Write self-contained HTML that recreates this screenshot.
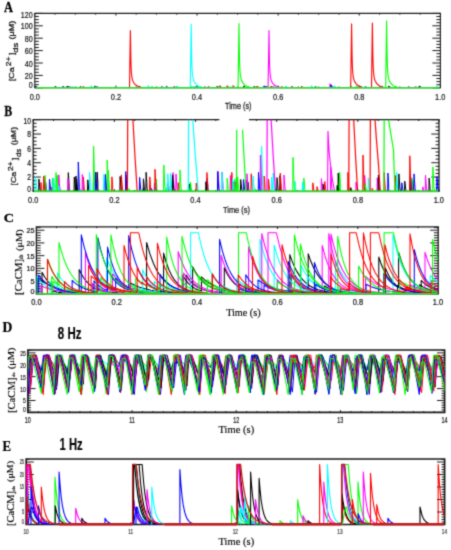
<!DOCTYPE html>
<html><head><meta charset="utf-8"><style>html,body{margin:0;padding:0;background:#fff;overflow:hidden;}svg{display:block;}</style></head><body>
<svg width="451" height="550" viewBox="0 0 451 550">
<filter id="bl" filterUnits="userSpaceOnUse" x="0" y="0" width="451" height="550" color-interpolation-filters="sRGB"><feConvolveMatrix order="3" kernelMatrix="0.0622 0.2494 0.0622 0.2494 1 0.2494 0.0622 0.2494 0.0622" divisor="2.2461" edgeMode="duplicate" preserveAlpha="true"/></filter>
<g filter="url(#bl)">
<rect width="451" height="550" fill="#fff"/>
<defs>
<clipPath id="cpA"><rect x="34.8" y="13.4" width="405.6" height="74.4"/></clipPath>
<clipPath id="cpB"><rect x="33.2" y="119.7" width="405.8" height="71.7"/></clipPath>
<clipPath id="cpC"><rect x="36.4" y="226.8" width="401.8" height="67"/></clipPath>
<clipPath id="cpD"><rect x="27.9" y="350" width="416.7" height="62.4"/></clipPath>
<clipPath id="cpE"><rect x="26.2" y="459" width="418.4" height="65.5"/></clipPath>
</defs>
<text transform="translate(4.04 11.7) scale(0.909 1)" font-family="Liberation Serif" font-weight="bold" font-size="13.64" fill="#000" stroke="#000" stroke-width="0.25">A</text>
<text transform="translate(4.32 115.63) scale(0.868 1)" font-family="Liberation Serif" font-weight="bold" font-size="13.64" fill="#000" stroke="#000" stroke-width="0.25">B</text>
<text transform="translate(3.66 221.77) scale(1.058 1)" font-family="Liberation Serif" font-weight="bold" font-size="13.43" fill="#000" stroke="#000" stroke-width="0.25">C</text>
<text transform="translate(2.5 331.63) scale(0.957 1)" font-family="Liberation Serif" font-weight="bold" font-size="14.24" fill="#000" stroke="#000" stroke-width="0.25">D</text>
<text transform="translate(2.51 450.5) scale(0.898 1)" font-family="Liberation Serif" font-weight="bold" font-size="14.35" fill="#000" stroke="#000" stroke-width="0.25">E</text>
<text transform="translate(57.85 338.64) scale(0.736 1)" font-family="Liberation Sans" font-weight="bold" font-size="15.63" fill="#000" stroke="#000" stroke-width="0.15">8 Hz</text>
<text transform="translate(59.53 450) scale(0.698 1)" font-family="Liberation Sans" font-weight="bold" font-size="16.09" fill="#000" stroke="#000" stroke-width="0.15">1 Hz</text>
<text transform="translate(224.95 109.15) scale(0.881 1)" font-family="Liberation Sans" font-weight="normal" font-size="8.34" fill="#222" stroke="#222" stroke-width="0.25">Time (s)</text>
<text transform="translate(222.95 212.55) scale(0.895 1)" font-family="Liberation Sans" font-weight="normal" font-size="8.34" fill="#222" stroke="#222" stroke-width="0.25">Time (s)</text>
<text transform="translate(226.15 316.18) scale(0.988 1)" font-family="Liberation Serif" font-weight="normal" font-size="10.33" fill="#000" stroke="#000" stroke-width="0.15">Time (s)</text>
<text transform="translate(218.54 433.11) scale(0.989 1)" font-family="Liberation Serif" font-weight="normal" font-size="10.66" fill="#000" stroke="#000" stroke-width="0.15">Time (s)</text>
<text transform="translate(218.54 544.65) scale(1.054 1)" font-family="Liberation Serif" font-weight="normal" font-size="10.00" fill="#000" stroke="#000" stroke-width="0.15">Time (s)</text>
<text transform="translate(13.98 81.23) rotate(-90) scale(1.168 1)" font-family="Liberation Sans" font-weight="normal" font-size="7.70" fill="#222" stroke="#222" stroke-width="0.3">[Ca</text>
<text transform="translate(10.6 66.13) rotate(-90) scale(1.152 1)" font-family="Liberation Sans" font-weight="normal" font-size="7.43" fill="#222" stroke="#222" stroke-width="0.3">2+</text>
<text transform="translate(13.97 54.94) rotate(-90) scale(1.207 1)" font-family="Liberation Sans" font-weight="normal" font-size="7.27" fill="#222" stroke="#222" stroke-width="0.3">]</text>
<text transform="translate(18.42 52.78) rotate(-90) scale(1.259 1)" font-family="Liberation Sans" font-weight="normal" font-size="7.62" fill="#222" stroke="#222" stroke-width="0.3">ds</text>
<text transform="translate(13.94 39.54) rotate(-90) scale(1.302 1)" font-family="Liberation Sans" font-weight="normal" font-size="6.95" fill="#222" stroke="#222" stroke-width="0.3">(μM)</text>
<text transform="translate(16.45 185.41) rotate(-90) scale(1.182 1)" font-family="Liberation Sans" font-weight="normal" font-size="7.38" fill="#222" stroke="#222" stroke-width="0.3">[Ca</text>
<text transform="translate(13.3 171.12) rotate(-90) scale(1.126 1)" font-family="Liberation Sans" font-weight="normal" font-size="7.43" fill="#222" stroke="#222" stroke-width="0.3">2+</text>
<text transform="translate(16.67 160.25) rotate(-90) scale(1.341 1)" font-family="Liberation Sans" font-weight="normal" font-size="7.27" fill="#222" stroke="#222" stroke-width="0.3">]</text>
<text transform="translate(20.83 157.12) rotate(-90) scale(1.083 1)" font-family="Liberation Sans" font-weight="normal" font-size="7.35" fill="#222" stroke="#222" stroke-width="0.3">ds</text>
<text transform="translate(16.44 145.13) rotate(-90) scale(1.266 1)" font-family="Liberation Sans" font-weight="normal" font-size="6.95" fill="#222" stroke="#222" stroke-width="0.3">(μM)</text>
<text transform="translate(22.22 294.96) rotate(-90) scale(0.989 1)" font-family="Liberation Serif" font-weight="normal" font-size="10.96" fill="#000" stroke="#000" stroke-width="0.15">[CaCM]</text>
<text transform="translate(23.44 258.88) rotate(-90) scale(0.860 1)" font-family="Liberation Serif" font-weight="normal" font-size="5.82" fill="#000" stroke="#000" stroke-width="0.15">ds</text>
<text transform="translate(21.66 251.02) rotate(-90) scale(1.213 1)" font-family="Liberation Serif" font-weight="normal" font-size="8.57" fill="#000" stroke="#000" stroke-width="0.15">(μM)</text>
<text transform="translate(14.9 413.05) rotate(-90) scale(0.964 1)" font-family="Liberation Serif" font-weight="normal" font-size="11.08" fill="#000" stroke="#000" stroke-width="0.15">[CaCM]</text>
<text transform="translate(15.35 376.66) rotate(-90) scale(0.933 1)" font-family="Liberation Serif" font-weight="normal" font-size="4.96" fill="#000" stroke="#000" stroke-width="0.15">ds</text>
<text transform="translate(13.51 369.32) rotate(-90) scale(1.194 1)" font-family="Liberation Serif" font-weight="normal" font-size="8.79" fill="#000" stroke="#000" stroke-width="0.15">(μM)</text>
<text transform="translate(13.77 525.93) rotate(-90) scale(0.988 1)" font-family="Liberation Serif" font-weight="normal" font-size="10.60" fill="#000" stroke="#000" stroke-width="0.15">[CaCM]</text>
<text transform="translate(15.16 491) rotate(-90) scale(1.497 1)" font-family="Liberation Serif" font-weight="normal" font-size="3.83" fill="#000" stroke="#000" stroke-width="0.15">ds</text>
<text transform="translate(13.44 481.9) rotate(-90) scale(1.102 1)" font-family="Liberation Serif" font-weight="normal" font-size="9.12" fill="#000" stroke="#000" stroke-width="0.15">(μM)</text>
<text transform="translate(20.86 17.76) scale(0.817 1)" font-family="Liberation Sans" font-weight="normal" font-size="8.73" fill="#111" stroke="#111" stroke-width="0.2">120</text>
<text transform="translate(20.86 29.31) scale(0.817 1)" font-family="Liberation Sans" font-weight="normal" font-size="8.73" fill="#111" stroke="#111" stroke-width="0.2">100</text>
<text transform="translate(24.83 41.71) scale(0.817 1)" font-family="Liberation Sans" font-weight="normal" font-size="8.73" fill="#111" stroke="#111" stroke-width="0.2">80</text>
<text transform="translate(24.83 54.11) scale(0.817 1)" font-family="Liberation Sans" font-weight="normal" font-size="8.73" fill="#111" stroke="#111" stroke-width="0.2">60</text>
<text transform="translate(24.83 66.51) scale(0.817 1)" font-family="Liberation Sans" font-weight="normal" font-size="8.73" fill="#111" stroke="#111" stroke-width="0.2">40</text>
<text transform="translate(24.83 78.51) scale(0.817 1)" font-family="Liberation Sans" font-weight="normal" font-size="8.73" fill="#111" stroke="#111" stroke-width="0.2">20</text>
<text transform="translate(28.79 87.51) scale(0.817 1)" font-family="Liberation Sans" font-weight="normal" font-size="8.73" fill="#111" stroke="#111" stroke-width="0.2">0</text>
<text transform="translate(29.64 99.61) scale(0.799 1)" font-family="Liberation Sans" font-weight="normal" font-size="9.30" fill="#111" stroke="#111" stroke-width="0.2">0.0</text>
<text transform="translate(110.8 99.61) scale(0.799 1)" font-family="Liberation Sans" font-weight="normal" font-size="9.30" fill="#111" stroke="#111" stroke-width="0.2">0.2</text>
<text transform="translate(191.84 99.61) scale(0.799 1)" font-family="Liberation Sans" font-weight="normal" font-size="9.30" fill="#111" stroke="#111" stroke-width="0.2">0.4</text>
<text transform="translate(273.02 99.61) scale(0.799 1)" font-family="Liberation Sans" font-weight="normal" font-size="9.30" fill="#111" stroke="#111" stroke-width="0.2">0.6</text>
<text transform="translate(354.14 99.61) scale(0.799 1)" font-family="Liberation Sans" font-weight="normal" font-size="9.30" fill="#111" stroke="#111" stroke-width="0.2">0.8</text>
<text transform="translate(435.09 99.61) scale(0.799 1)" font-family="Liberation Sans" font-weight="normal" font-size="9.30" fill="#111" stroke="#111" stroke-width="0.2">1.0</text>
<text transform="translate(23.49 124.42) scale(0.805 1)" font-family="Liberation Sans" font-weight="normal" font-size="8.45" fill="#111" stroke="#111" stroke-width="0.2">10</text>
<text transform="translate(27.3 137.26) scale(0.805 1)" font-family="Liberation Sans" font-weight="normal" font-size="8.45" fill="#111" stroke="#111" stroke-width="0.2">8</text>
<text transform="translate(27.3 151.6) scale(0.805 1)" font-family="Liberation Sans" font-weight="normal" font-size="8.45" fill="#111" stroke="#111" stroke-width="0.2">6</text>
<text transform="translate(27.2 165.94) scale(0.805 1)" font-family="Liberation Sans" font-weight="normal" font-size="8.45" fill="#111" stroke="#111" stroke-width="0.2">4</text>
<text transform="translate(27.33 180.22) scale(0.805 1)" font-family="Liberation Sans" font-weight="normal" font-size="8.45" fill="#111" stroke="#111" stroke-width="0.2">2</text>
<text transform="translate(27.26 191.52) scale(0.805 1)" font-family="Liberation Sans" font-weight="normal" font-size="8.45" fill="#111" stroke="#111" stroke-width="0.2">0</text>
<text transform="translate(28.04 203.31) scale(0.850 1)" font-family="Liberation Sans" font-weight="normal" font-size="8.73" fill="#111" stroke="#111" stroke-width="0.2">0.0</text>
<text transform="translate(109.24 203.31) scale(0.850 1)" font-family="Liberation Sans" font-weight="normal" font-size="8.73" fill="#111" stroke="#111" stroke-width="0.2">0.2</text>
<text transform="translate(190.32 203.31) scale(0.850 1)" font-family="Liberation Sans" font-weight="normal" font-size="8.73" fill="#111" stroke="#111" stroke-width="0.2">0.4</text>
<text transform="translate(271.54 203.31) scale(0.850 1)" font-family="Liberation Sans" font-weight="normal" font-size="8.73" fill="#111" stroke="#111" stroke-width="0.2">0.6</text>
<text transform="translate(352.7 203.31) scale(0.850 1)" font-family="Liberation Sans" font-weight="normal" font-size="8.73" fill="#111" stroke="#111" stroke-width="0.2">0.8</text>
<text transform="translate(433.69 203.31) scale(0.850 1)" font-family="Liberation Sans" font-weight="normal" font-size="8.73" fill="#111" stroke="#111" stroke-width="0.2">1.0</text>
<text transform="translate(26.44 232.98) scale(0.904 1)" font-family="Liberation Sans" font-weight="normal" font-size="8.03" fill="#111" stroke="#111" stroke-width="0.2">25</text>
<text transform="translate(26.4 245.9) scale(0.904 1)" font-family="Liberation Sans" font-weight="normal" font-size="8.03" fill="#111" stroke="#111" stroke-width="0.2">20</text>
<text transform="translate(26.44 258.57) scale(0.904 1)" font-family="Liberation Sans" font-weight="normal" font-size="8.03" fill="#111" stroke="#111" stroke-width="0.2">15</text>
<text transform="translate(26.4 271.33) scale(0.904 1)" font-family="Liberation Sans" font-weight="normal" font-size="8.03" fill="#111" stroke="#111" stroke-width="0.2">10</text>
<text transform="translate(30.46 284.11) scale(0.904 1)" font-family="Liberation Sans" font-weight="normal" font-size="8.03" fill="#111" stroke="#111" stroke-width="0.2">5</text>
<text transform="translate(30.43 293.97) scale(0.904 1)" font-family="Liberation Sans" font-weight="normal" font-size="8.03" fill="#111" stroke="#111" stroke-width="0.2">0</text>
<text transform="translate(31.19 305.17) scale(0.903 1)" font-family="Liberation Sans" font-weight="normal" font-size="8.31" fill="#111" stroke="#111" stroke-width="0.2">0.0</text>
<text transform="translate(111.59 305.17) scale(0.903 1)" font-family="Liberation Sans" font-weight="normal" font-size="8.31" fill="#111" stroke="#111" stroke-width="0.2">0.2</text>
<text transform="translate(191.87 305.17) scale(0.903 1)" font-family="Liberation Sans" font-weight="normal" font-size="8.31" fill="#111" stroke="#111" stroke-width="0.2">0.4</text>
<text transform="translate(272.29 305.17) scale(0.903 1)" font-family="Liberation Sans" font-weight="normal" font-size="8.31" fill="#111" stroke="#111" stroke-width="0.2">0.6</text>
<text transform="translate(352.65 305.17) scale(0.903 1)" font-family="Liberation Sans" font-weight="normal" font-size="8.31" fill="#111" stroke="#111" stroke-width="0.2">0.8</text>
<text transform="translate(432.84 305.17) scale(0.903 1)" font-family="Liberation Sans" font-weight="normal" font-size="8.31" fill="#111" stroke="#111" stroke-width="0.2">1.0</text>
<text transform="translate(20.25 355.58) scale(0.646 1)" font-family="Liberation Sans" font-weight="normal" font-size="7.89" fill="#111" stroke="#111" stroke-width="0.2">25</text>
<text transform="translate(20.22 367.69) scale(0.646 1)" font-family="Liberation Sans" font-weight="normal" font-size="7.89" fill="#111" stroke="#111" stroke-width="0.2">20</text>
<text transform="translate(20.25 379.56) scale(0.646 1)" font-family="Liberation Sans" font-weight="normal" font-size="7.89" fill="#111" stroke="#111" stroke-width="0.2">15</text>
<text transform="translate(20.22 391.5) scale(0.646 1)" font-family="Liberation Sans" font-weight="normal" font-size="7.89" fill="#111" stroke="#111" stroke-width="0.2">10</text>
<text transform="translate(23.07 403.47) scale(0.646 1)" font-family="Liberation Sans" font-weight="normal" font-size="7.89" fill="#111" stroke="#111" stroke-width="0.2">5</text>
<text transform="translate(23.05 412.12) scale(0.646 1)" font-family="Liberation Sans" font-weight="normal" font-size="7.89" fill="#111" stroke="#111" stroke-width="0.2">0</text>
<text transform="translate(24.79 423.42) scale(0.639 1)" font-family="Liberation Sans" font-weight="normal" font-size="8.45" fill="#111" stroke="#111" stroke-width="0.2">10</text>
<text transform="translate(129.2 423.42) scale(0.639 1)" font-family="Liberation Sans" font-weight="normal" font-size="8.45" fill="#111" stroke="#111" stroke-width="0.2">11</text>
<text transform="translate(233.17 423.46) scale(0.639 1)" font-family="Liberation Sans" font-weight="normal" font-size="8.45" fill="#111" stroke="#111" stroke-width="0.2">12</text>
<text transform="translate(337.33 423.42) scale(0.639 1)" font-family="Liberation Sans" font-weight="normal" font-size="8.45" fill="#111" stroke="#111" stroke-width="0.2">13</text>
<text transform="translate(441.47 423.42) scale(0.639 1)" font-family="Liberation Sans" font-weight="normal" font-size="8.45" fill="#111" stroke="#111" stroke-width="0.2">14</text>
<text transform="translate(19.7 464.28) scale(0.592 1)" font-family="Liberation Sans" font-weight="normal" font-size="6.62" fill="#333" stroke="#333" stroke-width="0.2">25</text>
<text transform="translate(19.68 476.98) scale(0.592 1)" font-family="Liberation Sans" font-weight="normal" font-size="6.62" fill="#333" stroke="#333" stroke-width="0.2">20</text>
<text transform="translate(19.7 489.45) scale(0.592 1)" font-family="Liberation Sans" font-weight="normal" font-size="6.62" fill="#333" stroke="#333" stroke-width="0.2">15</text>
<text transform="translate(19.68 501.98) scale(0.592 1)" font-family="Liberation Sans" font-weight="normal" font-size="6.62" fill="#333" stroke="#333" stroke-width="0.2">10</text>
<text transform="translate(21.88 514.25) scale(0.592 1)" font-family="Liberation Sans" font-weight="normal" font-size="6.62" fill="#333" stroke="#333" stroke-width="0.2">5</text>
<text transform="translate(21.86 524.08) scale(0.592 1)" font-family="Liberation Sans" font-weight="normal" font-size="6.62" fill="#333" stroke="#333" stroke-width="0.2">0</text>
<text transform="translate(23.5 533.92) scale(0.618 1)" font-family="Liberation Sans" font-weight="normal" font-size="7.61" fill="#333" stroke="#333" stroke-width="0.2">10</text>
<text transform="translate(128.3 533.92) scale(0.618 1)" font-family="Liberation Sans" font-weight="normal" font-size="7.61" fill="#333" stroke="#333" stroke-width="0.2">11</text>
<text transform="translate(232.72 533.96) scale(0.618 1)" font-family="Liberation Sans" font-weight="normal" font-size="7.61" fill="#333" stroke="#333" stroke-width="0.2">12</text>
<text transform="translate(337.31 533.92) scale(0.618 1)" font-family="Liberation Sans" font-weight="normal" font-size="7.61" fill="#333" stroke="#333" stroke-width="0.2">13</text>
<text transform="translate(441.87 533.92) scale(0.618 1)" font-family="Liberation Sans" font-weight="normal" font-size="7.61" fill="#333" stroke="#333" stroke-width="0.2">14</text>
<path d="M34.8 87.8H42.8M440.4 87.8H432.4M34.8 84.7H38.8M440.4 84.7H436.4M34.8 81.6H38.8M440.4 81.6H436.4M34.8 78.5H38.8M440.4 78.5H436.4M34.8 75.4H42.8M440.4 75.4H432.4M34.8 72.3H38.8M440.4 72.3H436.4M34.8 69.2H38.8M440.4 69.2H436.4M34.8 66.1H38.8M440.4 66.1H436.4M34.8 63H42.8M440.4 63H432.4M34.8 59.9H38.8M440.4 59.9H436.4M34.8 56.8H38.8M440.4 56.8H436.4M34.8 53.7H38.8M440.4 53.7H436.4M34.8 50.6H42.8M440.4 50.6H432.4M34.8 47.5H38.8M440.4 47.5H436.4M34.8 44.4H38.8M440.4 44.4H436.4M34.8 41.3H38.8M440.4 41.3H436.4M34.8 38.2H42.8M440.4 38.2H432.4M34.8 35.1H38.8M440.4 35.1H436.4M34.8 32H38.8M440.4 32H436.4M34.8 28.9H38.8M440.4 28.9H436.4M34.8 25.8H42.8M440.4 25.8H432.4M34.8 22.7H38.8M440.4 22.7H436.4M34.8 19.6H38.8M440.4 19.6H436.4M34.8 16.5H38.8M440.4 16.5H436.4M34.8 13.4H42.8M440.4 13.4H432.4M34.8 13.4V15.6M34.8 87.8V85.6M55.08 13.4V14.7M55.08 87.8V86.5M75.36 13.4V14.7M75.36 87.8V86.5M95.64 13.4V14.7M95.64 87.8V86.5M115.92 13.4V15.6M115.92 87.8V85.6M136.2 13.4V14.7M136.2 87.8V86.5M156.48 13.4V14.7M156.48 87.8V86.5M176.76 13.4V14.7M176.76 87.8V86.5M197.04 13.4V15.6M197.04 87.8V85.6M217.32 13.4V14.7M217.32 87.8V86.5M237.6 13.4V14.7M237.6 87.8V86.5M257.88 13.4V14.7M257.88 87.8V86.5M278.16 13.4V15.6M278.16 87.8V85.6M298.44 13.4V14.7M298.44 87.8V86.5M318.72 13.4V14.7M318.72 87.8V86.5M339 13.4V14.7M339 87.8V86.5M359.28 13.4V15.6M359.28 87.8V85.6M379.56 13.4V14.7M379.56 87.8V86.5M399.84 13.4V14.7M399.84 87.8V86.5M420.12 13.4V14.7M420.12 87.8V86.5M440.4 13.4V15.6M440.4 87.8V85.6" stroke="#1a1a1a" stroke-width="1" fill="none"/>
<path d="M34.8 13.4H440.4 M34.8 13.4V87.8 M440.4 13.4V87.8 M34.8 87.8H440.4" stroke="#1a1a1a" stroke-width="1.1" fill="none" stroke-linecap="square"/>
<g clip-path="url(#cpA)">
<path d="M166.25 87.2 166.5 86.23 167.4 87.08 168 87.2" stroke="#0000ff" stroke-width="1" fill="none" stroke-linejoin="round"/>
<path d="M55.04 87.2 55.29 86.59 56.19 87.13 56.79 87.2" stroke="#000000" stroke-width="1" fill="none" stroke-linejoin="round"/>
<path d="M270.76 87.2 271.01 86.44 271.91 87.11 272.51 87.2" stroke="#000000" stroke-width="1" fill="none" stroke-linejoin="round"/>
<path d="M70.24 87.2 70.49 86.62 71.39 87.13 71.99 87.2" stroke="#00ffff" stroke-width="1" fill="none" stroke-linejoin="round"/>
<path d="M72.16 87.2 72.41 86.63 73.31 87.13 73.91 87.2" stroke="#00ffff" stroke-width="1" fill="none" stroke-linejoin="round"/>
<path d="M263.77 87.2 264.02 85.94 264.92 87.05 265.52 87.2" stroke="#0000ff" stroke-width="1" fill="none" stroke-linejoin="round"/>
<path d="M270.85 87.2 271.1 86.01 272 87.06 272.6 87.2" stroke="#ff0000" stroke-width="1" fill="none" stroke-linejoin="round"/>
<path d="M195.65 87.2 195.9 86.64 196.8 87.13 197.4 87.2" stroke="#0000ff" stroke-width="1" fill="none" stroke-linejoin="round"/>
<path d="M382.03 87.2 382.28 86.2 383.18 87.08 383.78 87.2" stroke="#ff00ff" stroke-width="1" fill="none" stroke-linejoin="round"/>
<path d="M253.77 87.2 254.02 86.33 254.92 87.1 255.52 87.2" stroke="#000000" stroke-width="1" fill="none" stroke-linejoin="round"/>
<path d="M364.94 87.2 365.19 86.58 366.09 87.13 366.69 87.2" stroke="#0000ff" stroke-width="1" fill="none" stroke-linejoin="round"/>
<path d="M266.09 87.2 266.34 86.25 267.24 87.09 267.84 87.2" stroke="#0000ff" stroke-width="1" fill="none" stroke-linejoin="round"/>
<path d="M256.62 87.2 256.87 86.02 257.77 87.06 258.37 87.2" stroke="#ff0000" stroke-width="1" fill="none" stroke-linejoin="round"/>
<path d="M285.38 87.2 285.63 85.88 286.53 87.04 287.13 87.2" stroke="#00ffff" stroke-width="1" fill="none" stroke-linejoin="round"/>
<path d="M208.13 87.2 208.38 86.14 209.28 87.07 209.88 87.2" stroke="#ff00ff" stroke-width="1" fill="none" stroke-linejoin="round"/>
<path d="M408.25 87.2 408.5 86.34 409.4 87.1 410 87.2" stroke="#ff00ff" stroke-width="1" fill="none" stroke-linejoin="round"/>
<path d="M356.16 87.2 356.41 85.76 357.31 87.03 357.91 87.2" stroke="#00ff00" stroke-width="1" fill="none" stroke-linejoin="round"/>
<path d="M68.59 87.2 68.84 86.07 69.74 87.06 70.34 87.2" stroke="#ff00ff" stroke-width="1" fill="none" stroke-linejoin="round"/>
<path d="M388.76 87.2 389.01 86.16 389.91 87.08 390.51 87.2" stroke="#00ff00" stroke-width="1" fill="none" stroke-linejoin="round"/>
<path d="M281.33 87.2 281.58 86.56 282.48 87.12 283.08 87.2" stroke="#ff0000" stroke-width="1" fill="none" stroke-linejoin="round"/>
<path d="M204.3 87.2 204.55 86.52 205.45 87.12 206.05 87.2" stroke="#ff00ff" stroke-width="1" fill="none" stroke-linejoin="round"/>
<path d="M232.9 87.2 233.15 85.55 234.05 87 234.65 87.2" stroke="#ff0000" stroke-width="1" fill="none" stroke-linejoin="round"/>
<path d="M66.88 87.2 67.13 86.01 68.03 87.06 68.63 87.2" stroke="#000000" stroke-width="1" fill="none" stroke-linejoin="round"/>
<path d="M388.89 87.2 389.14 86.29 390.04 87.09 390.64 87.2" stroke="#ff00ff" stroke-width="1" fill="none" stroke-linejoin="round"/>
<path d="M176.88 87.2 177.13 86 178.03 87.06 178.63 87.2" stroke="#00ffff" stroke-width="1" fill="none" stroke-linejoin="round"/>
<path d="M219.67 87.2 219.92 85.57 220.82 87 221.42 87.2" stroke="#ff0000" stroke-width="1" fill="none" stroke-linejoin="round"/>
<path d="M226.9 87.2 227.15 86.62 228.05 87.13 228.65 87.2" stroke="#00ff00" stroke-width="1" fill="none" stroke-linejoin="round"/>
<path d="M330.65 87.2 330.9 85.92 331.8 87.05 332.4 87.2" stroke="#ff00ff" stroke-width="1" fill="none" stroke-linejoin="round"/>
<path d="M436.36 87.2 436.61 86.36 437.51 87.1 438.11 87.2" stroke="#00ffff" stroke-width="1" fill="none" stroke-linejoin="round"/>
<path d="M191.26 87.2 191.51 86.28 192.41 87.09 193.01 87.2" stroke="#00ff00" stroke-width="1" fill="none" stroke-linejoin="round"/>
<path d="M415.2 87.2 415.45 86.5 416.35 87.12 416.95 87.2" stroke="#ff00ff" stroke-width="1" fill="none" stroke-linejoin="round"/>
<path d="M82.81 87.2 83.06 86.44 83.96 87.11 84.56 87.2" stroke="#ff0000" stroke-width="1" fill="none" stroke-linejoin="round"/>
<path d="M151.56 87.2 151.81 86.4 152.71 87.1 153.31 87.2" stroke="#00ff00" stroke-width="1" fill="none" stroke-linejoin="round"/>
<path d="M193.34 87.2 193.59 86.6 194.49 87.13 195.09 87.2" stroke="#00ffff" stroke-width="1" fill="none" stroke-linejoin="round"/>
<path d="M216.84 87.2 217.09 86.37 217.99 87.1 218.59 87.2" stroke="#000000" stroke-width="1" fill="none" stroke-linejoin="round"/>
<path d="M90.81 87.2 91.06 85.66 91.96 87.02 92.56 87.2" stroke="#00ffff" stroke-width="1" fill="none" stroke-linejoin="round"/>
<path d="M147.92 87.2 148.17 85.52 149.07 87 149.67 87.2" stroke="#00ffff" stroke-width="1" fill="none" stroke-linejoin="round"/>
<path d="M311.1 87.2 311.35 85.55 312.25 87 312.85 87.2" stroke="#00ffff" stroke-width="1" fill="none" stroke-linejoin="round"/>
<path d="M96.46 87.2 96.71 86.52 97.61 87.12 98.21 87.2" stroke="#0000ff" stroke-width="1" fill="none" stroke-linejoin="round"/>
<path d="M301.33 87.2 301.58 86.12 302.48 87.07 303.08 87.2" stroke="#ff0000" stroke-width="1" fill="none" stroke-linejoin="round"/>
<path d="M273.32 87.2 273.57 86.36 274.47 87.1 275.07 87.2" stroke="#ff00ff" stroke-width="1" fill="none" stroke-linejoin="round"/>
<path d="M94.34 87.2 94.59 86.26 95.49 87.09 96.09 87.2" stroke="#000000" stroke-width="1" fill="none" stroke-linejoin="round"/>
<path d="M264.13 87.2 264.38 85.87 265.28 87.04 265.88 87.2" stroke="#0000ff" stroke-width="1" fill="none" stroke-linejoin="round"/>
<path d="M243.6 87.2 243.85 85.91 244.75 87.05 245.35 87.2" stroke="#000000" stroke-width="1" fill="none" stroke-linejoin="round"/>
<path d="M334.13 87.2 334.38 85.62 335.28 87.01 335.88 87.2" stroke="#00ffff" stroke-width="1" fill="none" stroke-linejoin="round"/>
<path d="M350.35 87.2 350.6 85.74 351.5 87.03 352.1 87.2" stroke="#00ff00" stroke-width="1" fill="none" stroke-linejoin="round"/>
<path d="M193.91 87.2 194.16 86.23 195.06 87.08 195.66 87.2" stroke="#00ffff" stroke-width="1" fill="none" stroke-linejoin="round"/>
<path d="M229.89 87.2 230.14 86.63 231.04 87.13 231.64 87.2" stroke="#00ffff" stroke-width="1" fill="none" stroke-linejoin="round"/>
<path d="M62.73 87.2 62.98 86.17 63.88 87.08 64.48 87.2" stroke="#0000ff" stroke-width="1" fill="none" stroke-linejoin="round"/>
<path d="M79.92 87.2 80.17 86.64 81.07 87.13 81.67 87.2" stroke="#000000" stroke-width="1" fill="none" stroke-linejoin="round"/>
<path d="M35.64 87.2 35.89 86.06 36.79 87.06 37.39 87.2" stroke="#0000ff" stroke-width="1" fill="none" stroke-linejoin="round"/>
<path d="M418.55 87.2 418.8 86.67 419.7 87.14 420.3 87.2" stroke="#000000" stroke-width="1" fill="none" stroke-linejoin="round"/>
<path d="M388.43 87.2 388.68 86.25 389.58 87.09 390.18 87.2" stroke="#000000" stroke-width="1" fill="none" stroke-linejoin="round"/>
<path d="M291.6 87.2 291.85 85.98 292.75 87.05 293.35 87.2" stroke="#ff00ff" stroke-width="1" fill="none" stroke-linejoin="round"/>
<path d="M226.92 87.2 227.17 85.68 228.07 87.02 228.67 87.2" stroke="#ff0000" stroke-width="1" fill="none" stroke-linejoin="round"/>
<path d="M436.37 87.2 436.62 86.12 437.52 87.07 438.12 87.2" stroke="#00ffff" stroke-width="1" fill="none" stroke-linejoin="round"/>
<path d="M161.41 87.2 161.66 86.58 162.56 87.13 163.16 87.2" stroke="#0000ff" stroke-width="1" fill="none" stroke-linejoin="round"/>
<path d="M173.84 87.2 174.09 86.13 174.99 87.07 175.59 87.2" stroke="#ff00ff" stroke-width="1" fill="none" stroke-linejoin="round"/>
<path d="M314.86 87.2 315.11 86.67 316.01 87.14 316.61 87.2" stroke="#000000" stroke-width="1" fill="none" stroke-linejoin="round"/>
<path d="M419.37 87.2 419.62 86.27 420.52 87.09 421.12 87.2" stroke="#000000" stroke-width="1" fill="none" stroke-linejoin="round"/>
<path d="M129.5 87.4 130.4 30.6 130.85 59.51 131.15 68.29 131.45 73.26 132.05 78.12 132.65 80.41 133.35 82.03 134.75 84.07 136.85 85.75 138.25 86.36 140.35 86.88 140.9 87.4" stroke="#ff0000" stroke-width="1.1" fill="none" stroke-linejoin="round"/>
<path d="M190.3 87.4 191.2 24.4 191.65 56.46 191.95 66.21 192.25 71.72 192.85 77.11 193.45 79.64 194.15 81.44 195.55 83.7 197.65 85.57 199.05 86.25 201.15 86.83 201.7 87.4" stroke="#00ffff" stroke-width="1.1" fill="none" stroke-linejoin="round"/>
<path d="M238.1 87.4 239 23.5 239.45 56.02 239.75 65.91 240.05 71.5 240.65 76.96 241.25 79.53 241.95 81.36 243.35 83.65 245.45 85.54 246.85 86.23 248.95 86.82 249.5 87.4" stroke="#00ff00" stroke-width="1.1" fill="none" stroke-linejoin="round"/>
<path d="M268.1 87.4 269 30.6 269.45 59.51 269.75 68.29 270.05 73.26 270.65 78.12 271.25 80.41 271.95 82.03 273.35 84.07 275.45 85.75 276.85 86.36 278.95 86.88 279.5 87.4" stroke="#ff00ff" stroke-width="1.1" fill="none" stroke-linejoin="round"/>
<path d="M350.7 87.4 351.6 23.9 352.05 56.22 352.35 66.04 352.65 71.59 353.25 77.02 353.85 79.58 354.55 81.39 355.95 83.67 358.05 85.55 359.45 86.24 361.55 86.82 362.1 87.4" stroke="#ff0000" stroke-width="1.1" fill="none" stroke-linejoin="round"/>
<path d="M371.5 87.4 372.4 23 372.85 55.77 373.15 65.74 373.45 71.37 374.05 76.88 374.65 79.47 375.35 81.31 376.75 83.62 378.85 85.52 380.25 86.22 382.35 86.82 382.9 87.4" stroke="#ff0000" stroke-width="1.1" fill="none" stroke-linejoin="round"/>
<path d="M385.7 87.4 386.6 20.9 387.05 54.74 387.35 65.03 387.65 70.85 388.25 76.53 388.85 79.21 389.55 81.11 390.95 83.5 393.05 85.46 394.45 86.19 396.55 86.8 397.1 87.4" stroke="#00ff00" stroke-width="1.1" fill="none" stroke-linejoin="round"/>
<path d="M329.75 87.2 330 83.7 331.32 86.78 332.2 87.2" stroke="#ff00ff" stroke-width="1" fill="none" stroke-linejoin="round"/>
<path d="M330.75 87.2 331 84.7 332.32 86.9 333.2 87.2" stroke="#0000ff" stroke-width="1" fill="none" stroke-linejoin="round"/>
</g>
<path d="M35.5 87.8 439.7 87.8" stroke="#2ddd2d" stroke-width="1.6" fill="none" stroke-linejoin="round"/>
<path d="M33.2 191.4H40.9M439 191.4H431.3M33.2 187.81H36.6M439 187.81H435.6M33.2 184.23H36.6M439 184.23H435.6M33.2 180.65H36.6M439 180.65H435.6M33.2 177.06H40.9M439 177.06H431.3M33.2 173.47H36.6M439 173.47H435.6M33.2 169.89H36.6M439 169.89H435.6M33.2 166.31H36.6M439 166.31H435.6M33.2 162.72H40.9M439 162.72H431.3M33.2 159.13H36.6M439 159.13H435.6M33.2 155.55H36.6M439 155.55H435.6M33.2 151.97H36.6M439 151.97H435.6M33.2 148.38H40.9M439 148.38H431.3M33.2 144.8H36.6M439 144.8H435.6M33.2 141.21H36.6M439 141.21H435.6M33.2 137.62H36.6M439 137.62H435.6M33.2 134.04H40.9M439 134.04H431.3M33.2 130.46H36.6M439 130.46H435.6M33.2 126.87H36.6M439 126.87H435.6M33.2 123.29H36.6M439 123.29H435.6M33.2 119.7H40.9M439 119.7H431.3M33.2 119.7V121.9M33.2 191.4V189.2M53.49 119.7V121M53.49 191.4V190.1M73.78 119.7V121M73.78 191.4V190.1M94.07 119.7V121M94.07 191.4V190.1M114.36 119.7V121.9M114.36 191.4V189.2M134.65 119.7V121M134.65 191.4V190.1M154.94 119.7V121M154.94 191.4V190.1M175.23 119.7V121M175.23 191.4V190.1M195.52 119.7V121.9M195.52 191.4V189.2M215.81 119.7V121M215.81 191.4V190.1M236.1 119.7V121M236.1 191.4V190.1M256.39 119.7V121M256.39 191.4V190.1M276.68 119.7V121.9M276.68 191.4V189.2M296.97 119.7V121M296.97 191.4V190.1M317.26 119.7V121M317.26 191.4V190.1M337.55 119.7V121M337.55 191.4V190.1M357.84 119.7V121.9M357.84 191.4V189.2M378.13 119.7V121M378.13 191.4V190.1M398.42 119.7V121M398.42 191.4V190.1M418.71 119.7V121M418.71 191.4V190.1M439 119.7V121.9M439 191.4V189.2" stroke="#1a1a1a" stroke-width="1" fill="none"/>
<path d="M33.2 119.7H219 M249.4 119.7H439 M33.2 119.7V191.4 M439 119.7V191.4 M33.2 191.4H439" stroke="#1a1a1a" stroke-width="1.3" fill="none" stroke-linecap="square"/>
<g clip-path="url(#cpB)">
<path d="M312.6 190.9 312.85 182.83 313.84 189.93 314.51 190.9" stroke="#ff0000" stroke-width="1" fill="none" stroke-linejoin="round"/>
<path d="M139.39 190.9 139.64 177.34 140.67 189.27 141.36 190.9" stroke="#0000ff" stroke-width="1" fill="none" stroke-linejoin="round"/>
<path d="M167.07 190.9 167.32 183.99 168.37 190.07 169.06 190.9" stroke="#00ff00" stroke-width="1" fill="none" stroke-linejoin="round"/>
<path d="M364.39 190.9 364.64 175.45 365.34 183.95 365.32 189.05 365.77 190.9" stroke="#ff00ff" stroke-width="1" fill="none" stroke-linejoin="round"/>
<path d="M45.23 190.9 45.48 180.77 46.18 186.34 46.36 189.68 46.94 190.9" stroke="#0000ff" stroke-width="1" fill="none" stroke-linejoin="round"/>
<path d="M412.32 190.9 412.57 181.26 413.27 186.56 413.45 189.74 414.05 190.9" stroke="#0000ff" stroke-width="1" fill="none" stroke-linejoin="round"/>
<path d="M170.33 190.9 170.58 173 171.67 188.75 172.41 190.9" stroke="#00ffff" stroke-width="1" fill="none" stroke-linejoin="round"/>
<path d="M172.86 190.9 173.11 172.53 174.13 188.7 174.81 190.9" stroke="#ff00ff" stroke-width="1" fill="none" stroke-linejoin="round"/>
<path d="M226.98 190.9 227.23 178.29 227.93 185.23 228.08 189.39 228.65 190.9" stroke="#00ff00" stroke-width="1" fill="none" stroke-linejoin="round"/>
<path d="M196.03 190.9 196.28 183.1 197.22 189.96 197.85 190.9" stroke="#ff0000" stroke-width="1" fill="none" stroke-linejoin="round"/>
<path d="M221.86 190.9 222.11 172.04 223.22 188.64 223.96 190.9" stroke="#ff00ff" stroke-width="1" fill="none" stroke-linejoin="round"/>
<path d="M96.91 190.9 97.16 172.1 97.86 182.44 97.87 188.64 98.34 190.9" stroke="#000000" stroke-width="1" fill="none" stroke-linejoin="round"/>
<path d="M336.6 190.9 336.85 185.43 337.55 188.44 337.52 190.24 337.97 190.9" stroke="#00ff00" stroke-width="1" fill="none" stroke-linejoin="round"/>
<path d="M119.87 190.9 120.12 176.45 121.18 189.17 121.89 190.9" stroke="#000000" stroke-width="1" fill="none" stroke-linejoin="round"/>
<path d="M58.54 190.9 58.79 174.82 59.49 183.66 59.66 188.97 60.23 190.9" stroke="#ff00ff" stroke-width="1" fill="none" stroke-linejoin="round"/>
<path d="M404.53 190.9 404.78 181.23 405.81 189.74 406.5 190.9" stroke="#000000" stroke-width="1" fill="none" stroke-linejoin="round"/>
<path d="M279.68 190.9 279.93 175.59 280.63 184.01 280.65 189.06 281.13 190.9" stroke="#000000" stroke-width="1" fill="none" stroke-linejoin="round"/>
<path d="M58.89 190.9 59.14 184.75 60.22 190.16 60.94 190.9" stroke="#ff00ff" stroke-width="1" fill="none" stroke-linejoin="round"/>
<path d="M56.89 190.9 57.14 175.35 57.84 183.9 57.82 189.03 58.27 190.9" stroke="#00ff00" stroke-width="1" fill="none" stroke-linejoin="round"/>
<path d="M394.95 190.9 395.2 175.36 395.9 183.91 395.96 189.04 396.46 190.9" stroke="#ff0000" stroke-width="1" fill="none" stroke-linejoin="round"/>
<path d="M145.88 190.9 146.13 172.31 146.83 182.53 147.04 188.67 147.65 190.9" stroke="#000000" stroke-width="1" fill="none" stroke-linejoin="round"/>
<path d="M387.67 190.9 387.92 173.08 388.62 182.88 388.65 188.76 389.13 190.9" stroke="#0000ff" stroke-width="1" fill="none" stroke-linejoin="round"/>
<path d="M83.06 190.9 83.31 186.37 84.29 190.36 84.95 190.9" stroke="#00ffff" stroke-width="1" fill="none" stroke-linejoin="round"/>
<path d="M350.5 190.9 350.75 187.66 351.45 189.44 351.53 190.51 352.06 190.9" stroke="#000000" stroke-width="1" fill="none" stroke-linejoin="round"/>
<path d="M89.37 190.9 89.62 172.42 90.32 182.59 90.36 188.68 90.85 190.9" stroke="#00ffff" stroke-width="1" fill="none" stroke-linejoin="round"/>
<path d="M303.62 190.9 303.87 178.15 304.57 185.16 304.73 189.37 305.31 190.9" stroke="#00ff00" stroke-width="1" fill="none" stroke-linejoin="round"/>
<path d="M177.95 190.9 178.2 182.69 179.2 189.91 179.86 190.9" stroke="#ff0000" stroke-width="1" fill="none" stroke-linejoin="round"/>
<path d="M189.15 190.9 189.4 183.91 190.52 190.06 191.28 190.9" stroke="#000000" stroke-width="1" fill="none" stroke-linejoin="round"/>
<path d="M76.26 190.9 76.51 186.72 77.56 190.4 78.27 190.9" stroke="#0000ff" stroke-width="1" fill="none" stroke-linejoin="round"/>
<path d="M377.01 190.9 377.26 177.85 378.2 189.33 378.82 190.9" stroke="#ff00ff" stroke-width="1" fill="none" stroke-linejoin="round"/>
<path d="M316.78 190.9 317.03 186.67 317.73 189 317.82 190.39 318.34 190.9" stroke="#ff0000" stroke-width="1" fill="none" stroke-linejoin="round"/>
<path d="M40.75 190.9 41 182.49 41.7 187.11 41.78 189.89 42.31 190.9" stroke="#ff0000" stroke-width="1" fill="none" stroke-linejoin="round"/>
<path d="M83.08 190.9 83.33 176.82 84.29 189.21 84.93 190.9" stroke="#ff0000" stroke-width="1" fill="none" stroke-linejoin="round"/>
<path d="M51.4 190.9 51.65 186.99 52.35 189.14 52.39 190.43 52.89 190.9" stroke="#ff00ff" stroke-width="1" fill="none" stroke-linejoin="round"/>
<path d="M410.39 190.9 410.64 176.87 411.62 189.22 412.28 190.9" stroke="#ff00ff" stroke-width="1" fill="none" stroke-linejoin="round"/>
<path d="M143.19 190.9 143.44 178.79 144.14 185.45 144.34 189.45 144.94 190.9" stroke="#000000" stroke-width="1" fill="none" stroke-linejoin="round"/>
<path d="M428.89 190.9 429.14 178.16 429.84 185.17 430 189.37 430.58 190.9" stroke="#000000" stroke-width="1" fill="none" stroke-linejoin="round"/>
<path d="M233.83 190.9 234.08 181.79 235.21 189.81 235.97 190.9" stroke="#000000" stroke-width="1" fill="none" stroke-linejoin="round"/>
<path d="M172.33 190.9 172.58 174.88 173.72 188.98 174.47 190.9" stroke="#000000" stroke-width="1" fill="none" stroke-linejoin="round"/>
<path d="M371.93 190.9 372.18 188.33 372.88 189.75 372.86 190.59 373.32 190.9" stroke="#ff0000" stroke-width="1" fill="none" stroke-linejoin="round"/>
<path d="M302.57 190.9 302.82 181.94 303.81 189.82 304.47 190.9" stroke="#00ffff" stroke-width="1" fill="none" stroke-linejoin="round"/>
<path d="M52.22 190.9 52.47 178 53.59 189.35 54.34 190.9" stroke="#00ff00" stroke-width="1" fill="none" stroke-linejoin="round"/>
<path d="M254.86 190.9 255.11 188.62 255.81 189.88 255.77 190.63 256.21 190.9" stroke="#00ff00" stroke-width="1" fill="none" stroke-linejoin="round"/>
<path d="M188.05 190.9 188.3 186.67 189 189 189 190.39 189.47 190.9" stroke="#00ffff" stroke-width="1" fill="none" stroke-linejoin="round"/>
<path d="M363.87 190.9 364.12 182.44 365.08 189.88 365.73 190.9" stroke="#00ff00" stroke-width="1" fill="none" stroke-linejoin="round"/>
<path d="M68.06 190.9 68.31 172.65 69.01 182.69 69.16 188.71 69.73 190.9" stroke="#000000" stroke-width="1" fill="none" stroke-linejoin="round"/>
<path d="M165.64 190.9 165.89 187.7 166.95 190.52 167.65 190.9" stroke="#00ffff" stroke-width="1" fill="none" stroke-linejoin="round"/>
<path d="M322.67 190.9 322.92 183.88 324.02 190.06 324.75 190.9" stroke="#000000" stroke-width="1" fill="none" stroke-linejoin="round"/>
<path d="M337.96 190.9 338.21 173.12 339.25 188.77 339.95 190.9" stroke="#000000" stroke-width="1" fill="none" stroke-linejoin="round"/>
<path d="M321.13 190.9 321.38 178.61 322.08 185.37 322.21 189.42 322.77 190.9" stroke="#ff00ff" stroke-width="1" fill="none" stroke-linejoin="round"/>
<path d="M76.32 190.9 76.57 178.77 77.55 189.44 78.21 190.9" stroke="#000000" stroke-width="1" fill="none" stroke-linejoin="round"/>
<path d="M231.53 190.9 231.78 172.37 232.48 182.56 232.48 188.68 232.95 190.9" stroke="#ff0000" stroke-width="1" fill="none" stroke-linejoin="round"/>
<path d="M246.34 190.9 246.59 180.13 247.29 186.05 247.37 189.61 247.88 190.9" stroke="#ff00ff" stroke-width="1" fill="none" stroke-linejoin="round"/>
<path d="M339.4 190.9 339.65 172.17 340.35 182.47 340.35 188.65 340.81 190.9" stroke="#00ff00" stroke-width="1" fill="none" stroke-linejoin="round"/>
<path d="M401.6 190.9 401.85 182.76 402.79 189.92 403.43 190.9" stroke="#0000ff" stroke-width="1" fill="none" stroke-linejoin="round"/>
<path d="M167.92 190.9 168.17 182.95 168.87 187.32 169.06 189.95 169.66 190.9" stroke="#ff00ff" stroke-width="1" fill="none" stroke-linejoin="round"/>
<path d="M230.12 190.9 230.37 175.47 231.07 183.96 231.27 189.05 231.88 190.9" stroke="#ff00ff" stroke-width="1" fill="none" stroke-linejoin="round"/>
<path d="M221.58 190.9 221.83 171.97 222.96 188.63 223.71 190.9" stroke="#00ffff" stroke-width="1" fill="none" stroke-linejoin="round"/>
<path d="M412.01 190.9 412.26 182.06 413.4 189.84 414.15 190.9" stroke="#ff0000" stroke-width="1" fill="none" stroke-linejoin="round"/>
<path d="M190.16 190.9 190.41 181.91 191.53 189.82 192.27 190.9" stroke="#00ff00" stroke-width="1" fill="none" stroke-linejoin="round"/>
<path d="M87.5 190.9 87.75 179.82 88.45 185.92 88.52 189.57 89.03 190.9" stroke="#000000" stroke-width="1" fill="none" stroke-linejoin="round"/>
<path d="M396.44 190.9 396.69 172.25 397.39 182.51 397.57 188.66 398.15 190.9" stroke="#00ffff" stroke-width="1" fill="none" stroke-linejoin="round"/>
<path d="M155.88 190.9 156.13 178.76 156.83 185.44 156.79 189.44 157.23 190.9" stroke="#00ff00" stroke-width="1" fill="none" stroke-linejoin="round"/>
<path d="M337.1 190.9 337.35 185.71 338.44 190.28 339.17 190.9" stroke="#000000" stroke-width="1" fill="none" stroke-linejoin="round"/>
<path d="M150.98 190.9 151.23 188.38 151.93 189.77 152.07 190.6 152.62 190.9" stroke="#0000ff" stroke-width="1" fill="none" stroke-linejoin="round"/>
<path d="M206.8 190.9 207.05 178.54 207.75 185.34 207.84 189.42 208.38 190.9" stroke="#0000ff" stroke-width="1" fill="none" stroke-linejoin="round"/>
<path d="M411.74 190.9 411.99 178.1 413.03 189.36 413.72 190.9" stroke="#00ff00" stroke-width="1" fill="none" stroke-linejoin="round"/>
<path d="M206.67 190.9 206.92 172.51 207.62 182.62 207.85 188.69 208.46 190.9" stroke="#ff0000" stroke-width="1" fill="none" stroke-linejoin="round"/>
<path d="M324.51 190.9 324.76 181.43 325.73 189.76 326.38 190.9" stroke="#ff0000" stroke-width="1" fill="none" stroke-linejoin="round"/>
<path d="M149.52 190.9 149.77 176.85 150.47 184.58 150.6 189.21 151.15 190.9" stroke="#ff0000" stroke-width="1" fill="none" stroke-linejoin="round"/>
<path d="M154.19 190.9 154.44 182.99 155.14 187.34 155.24 189.95 155.78 190.9" stroke="#ff00ff" stroke-width="1" fill="none" stroke-linejoin="round"/>
<path d="M259 190.9 259.25 178.37 260.34 189.4 261.07 190.9" stroke="#00ffff" stroke-width="1" fill="none" stroke-linejoin="round"/>
<path d="M234.67 190.9 234.92 179.24 235.62 185.65 235.65 189.5 236.13 190.9" stroke="#00ff00" stroke-width="1" fill="none" stroke-linejoin="round"/>
<path d="M111.64 190.9 111.89 176.79 112.59 184.55 112.68 189.21 113.2 190.9" stroke="#ff0000" stroke-width="1" fill="none" stroke-linejoin="round"/>
<path d="M263.96 190.9 264.21 176 264.91 184.2 264.97 189.11 265.48 190.9" stroke="#ff0000" stroke-width="1" fill="none" stroke-linejoin="round"/>
<path d="M143.07 190.9 143.32 188.4 144.31 190.6 144.97 190.9" stroke="#000000" stroke-width="1" fill="none" stroke-linejoin="round"/>
<path d="M247.65 190.9 247.9 182 248.6 186.89 248.75 189.83 249.31 190.9" stroke="#000000" stroke-width="1" fill="none" stroke-linejoin="round"/>
<path d="M294.72 190.9 294.97 181.27 295.67 186.57 295.69 189.74 296.17 190.9" stroke="#00ffff" stroke-width="1" fill="none" stroke-linejoin="round"/>
<path d="M205.65 190.9 205.9 181.73 206.6 186.78 206.59 189.8 207.05 190.9" stroke="#000000" stroke-width="1" fill="none" stroke-linejoin="round"/>
<path d="M409.58 190.9 409.83 184.68 410.53 188.1 410.6 190.15 411.11 190.9" stroke="#000000" stroke-width="1" fill="none" stroke-linejoin="round"/>
<path d="M95.36 190.9 95.61 173.82 96.31 183.21 96.31 188.85 96.77 190.9" stroke="#ff00ff" stroke-width="1" fill="none" stroke-linejoin="round"/>
<path d="M347.65 190.9 347.9 172.46 348.9 188.69 349.57 190.9" stroke="#ff0000" stroke-width="1" fill="none" stroke-linejoin="round"/>
<path d="M422.58 190.9 422.83 186.89 423.53 189.09 423.54 190.42 424.01 190.9" stroke="#ff00ff" stroke-width="1" fill="none" stroke-linejoin="round"/>
<path d="M155.23 190.9 155.48 187.37 156.18 189.31 156.15 190.48 156.59 190.9" stroke="#000000" stroke-width="1" fill="none" stroke-linejoin="round"/>
<path d="M155.7 190.9 155.95 186.67 156.65 189 156.84 190.39 157.43 190.9" stroke="#00ffff" stroke-width="1" fill="none" stroke-linejoin="round"/>
<path d="M128.75 190.9 129 188.67 129.7 189.89 129.67 190.63 130.12 190.9" stroke="#00ff00" stroke-width="1" fill="none" stroke-linejoin="round"/>
<path d="M235.17 190.9 235.42 182.01 236.52 189.83 237.26 190.9" stroke="#ff00ff" stroke-width="1" fill="none" stroke-linejoin="round"/>
<path d="M125.53 190.9 125.78 175 126.48 183.74 126.53 188.99 127.03 190.9" stroke="#ff0000" stroke-width="1" fill="none" stroke-linejoin="round"/>
<path d="M355.8 190.9 356.05 182.14 356.75 186.96 356.86 189.85 357.4 190.9" stroke="#ff00ff" stroke-width="1" fill="none" stroke-linejoin="round"/>
<path d="M365.07 190.9 365.32 185.18 366.43 190.21 367.18 190.9" stroke="#00ff00" stroke-width="1" fill="none" stroke-linejoin="round"/>
<path d="M234.14 190.9 234.39 181.73 235.51 189.8 236.25 190.9" stroke="#00ff00" stroke-width="1" fill="none" stroke-linejoin="round"/>
<path d="M93.06 190.9 93.31 182.64 94.01 187.18 93.99 189.91 94.45 190.9" stroke="#00ffff" stroke-width="1" fill="none" stroke-linejoin="round"/>
<path d="M58.23 190.9 58.48 185.3 59.62 190.23 60.38 190.9" stroke="#00ffff" stroke-width="1" fill="none" stroke-linejoin="round"/>
<path d="M410.13 190.9 410.38 175.72 411.08 184.07 411.05 189.08 411.5 190.9" stroke="#0000ff" stroke-width="1" fill="none" stroke-linejoin="round"/>
<path d="M302.25 190.9 302.5 182.19 303.2 186.98 303.16 189.85 303.6 190.9" stroke="#00ffff" stroke-width="1" fill="none" stroke-linejoin="round"/>
<path d="M78.05 190.9 78.3 162 79.38 187.43 80.1 190.9" stroke="#0000ff" stroke-width="1" fill="none" stroke-linejoin="round"/>
<path d="M93.35 190.9 93.6 146 94.68 185.51 95.4 190.9" stroke="#00ff00" stroke-width="1" fill="none" stroke-linejoin="round"/>
<path d="M106.95 190.9 107.2 160 108.28 187.19 109 190.9" stroke="#00ff00" stroke-width="1" fill="none" stroke-linejoin="round"/>
<path d="M108.05 190.9 108.3 170.4 109.38 188.44 110.1 190.9" stroke="#00ff00" stroke-width="1" fill="none" stroke-linejoin="round"/>
<path d="M95.35 190.9 95.6 172.2 96.68 188.66 97.4 190.9" stroke="#0000ff" stroke-width="1" fill="none" stroke-linejoin="round"/>
<path d="M121.15 190.9 121.4 174.9 122.48 188.98 123.2 190.9" stroke="#ff0000" stroke-width="1" fill="none" stroke-linejoin="round"/>
<path d="M125.55 190.9 125.8 171.5 126.88 188.57 127.6 190.9" stroke="#0000ff" stroke-width="1" fill="none" stroke-linejoin="round"/>
<path d="M163.55 190.9 163.8 165 164.88 187.79 165.6 190.9" stroke="#00ff00" stroke-width="1" fill="none" stroke-linejoin="round"/>
<path d="M154.75 190.9 155 169.3 156.08 188.31 156.8 190.9" stroke="#ff0000" stroke-width="1" fill="none" stroke-linejoin="round"/>
<path d="M167.55 190.9 167.8 173.8 168.88 188.85 169.6 190.9" stroke="#00ffff" stroke-width="1" fill="none" stroke-linejoin="round"/>
<path d="M179.75 190.9 180 170 181.08 188.39 181.8 190.9" stroke="#00ff00" stroke-width="1" fill="none" stroke-linejoin="round"/>
<path d="M175.75 190.9 176 174 177.08 188.87 177.8 190.9" stroke="#ff00ff" stroke-width="1" fill="none" stroke-linejoin="round"/>
<path d="M217.75 190.9 218 171.5 219.08 188.57 219.8 190.9" stroke="#ff00ff" stroke-width="1" fill="none" stroke-linejoin="round"/>
<path d="M217.45 190.9 217.7 171.5 218.78 188.57 219.5 190.9" stroke="#0000ff" stroke-width="1" fill="none" stroke-linejoin="round"/>
<path d="M261.35 190.9 261.6 146.4 262.68 185.56 263.4 190.9" stroke="#00ffff" stroke-width="1" fill="none" stroke-linejoin="round"/>
<path d="M260.15 190.9 260.4 155 261.48 186.59 262.2 190.9" stroke="#ff00ff" stroke-width="1" fill="none" stroke-linejoin="round"/>
<path d="M258.25 190.9 258.5 172.3 259.58 188.67 260.3 190.9" stroke="#0000ff" stroke-width="1" fill="none" stroke-linejoin="round"/>
<path d="M246.75 190.9 247 173.8 248.08 188.85 248.8 190.9" stroke="#ff00ff" stroke-width="1" fill="none" stroke-linejoin="round"/>
<path d="M250.95 190.9 251.2 173.8 252.28 188.85 253 190.9" stroke="#ff0000" stroke-width="1" fill="none" stroke-linejoin="round"/>
<path d="M272.95 190.9 273.2 173 274.28 188.75 275 190.9" stroke="#00ffff" stroke-width="1" fill="none" stroke-linejoin="round"/>
<path d="M280.05 190.9 280.3 173 281.38 188.75 282.1 190.9" stroke="#ff0000" stroke-width="1" fill="none" stroke-linejoin="round"/>
<path d="M292.75 190.9 293 157.4 294.08 186.88 294.8 190.9" stroke="#00ff00" stroke-width="1" fill="none" stroke-linejoin="round"/>
<path d="M330.45 190.9 330.7 167 331.78 188.03 332.5 190.9" stroke="#ff00ff" stroke-width="1" fill="none" stroke-linejoin="round"/>
<path d="M362.75 190.9 363 155 364.08 186.59 364.8 190.9" stroke="#ff0000" stroke-width="1" fill="none" stroke-linejoin="round"/>
<path d="M409.55 190.9 409.8 155.8 410.88 186.69 411.6 190.9" stroke="#ff0000" stroke-width="1" fill="none" stroke-linejoin="round"/>
<path d="M432.65 190.9 432.9 167 433.98 188.03 434.7 190.9" stroke="#00ff00" stroke-width="1" fill="none" stroke-linejoin="round"/>
<path d="M436.65 190.9 436.9 176.5 437.98 189.17 438.7 190.9" stroke="#0000ff" stroke-width="1" fill="none" stroke-linejoin="round"/>
<path d="M378.15 190.9 378.4 175 379.48 188.99 380.2 190.9" stroke="#000000" stroke-width="1" fill="none" stroke-linejoin="round"/>
<path d="M383.95 190.9 384.2 172.5 385.28 188.69 386 190.9" stroke="#ff0000" stroke-width="1" fill="none" stroke-linejoin="round"/>
<path d="M368.05 190.9 368.3 177.9 369.38 189.34 370.1 190.9" stroke="#00ffff" stroke-width="1" fill="none" stroke-linejoin="round"/>
<path d="M398.65 190.9 398.9 173.9 399.98 188.86 400.7 190.9" stroke="#000000" stroke-width="1" fill="none" stroke-linejoin="round"/>
<path d="M425.25 190.9 425.5 175.2 426.58 189.02 427.3 190.9" stroke="#ff00ff" stroke-width="1" fill="none" stroke-linejoin="round"/>
<path d="M413.75 190.9 414 173.9 415.08 188.86 415.8 190.9" stroke="#0000ff" stroke-width="1" fill="none" stroke-linejoin="round"/>
<path d="M44.75 190.9 45 175.3 46.08 189.03 46.8 190.9" stroke="#00ff00" stroke-width="1" fill="none" stroke-linejoin="round"/>
<path d="M43.45 190.9 43.7 176 44.78 189.11 45.5 190.9" stroke="#ff0000" stroke-width="1" fill="none" stroke-linejoin="round"/>
<path d="M55.75 190.9 56 172.6 57.08 188.7 57.8 190.9" stroke="#00ff00" stroke-width="1" fill="none" stroke-linejoin="round"/>
<path d="M82.05 190.9 82.3 174.4 83.38 188.92 84.1 190.9" stroke="#ff00ff" stroke-width="1" fill="none" stroke-linejoin="round"/>
<path d="M103.55 190.9 103.8 174.4 104.88 188.92 105.6 190.9" stroke="#00ffff" stroke-width="1" fill="none" stroke-linejoin="round"/>
<path d="M105.15 190.9 105.4 174.4 106.48 188.92 107.2 190.9" stroke="#0000ff" stroke-width="1" fill="none" stroke-linejoin="round"/>
<path d="M35.25 190.9 35.5 176.6 36.58 189.18 37.3 190.9" stroke="#00ffff" stroke-width="1" fill="none" stroke-linejoin="round"/>
<path d="M38.65 190.9 38.9 179 39.98 189.47 40.7 190.9" stroke="#000000" stroke-width="1" fill="none" stroke-linejoin="round"/>
<path d="M49.25 190.9 49.5 179 50.58 189.47 51.3 190.9" stroke="#0000ff" stroke-width="1" fill="none" stroke-linejoin="round"/>
<path d="M53.45 190.9 53.7 178 54.78 189.35 55.5 190.9" stroke="#00ffff" stroke-width="1" fill="none" stroke-linejoin="round"/>
<path d="M67.75 190.9 68 178.8 69.08 189.45 69.8 190.9" stroke="#ff00ff" stroke-width="1" fill="none" stroke-linejoin="round"/>
<path d="M74.05 190.9 74.3 177 75.38 189.23 76.1 190.9" stroke="#000000" stroke-width="1" fill="none" stroke-linejoin="round"/>
<path d="M75.65 190.9 75.9 176 76.98 189.11 77.7 190.9" stroke="#000000" stroke-width="1" fill="none" stroke-linejoin="round"/>
<path d="M231.35 190.9 231.6 178.3 232.68 189.39 233.4 190.9" stroke="#ff0000" stroke-width="1" fill="none" stroke-linejoin="round"/>
<path d="M232.25 190.9 232.5 178.3 233.58 189.39 234.3 190.9" stroke="#00ffff" stroke-width="1" fill="none" stroke-linejoin="round"/>
<path d="M237.35 190.9 237.6 176.8 238.68 189.21 239.4 190.9" stroke="#00ff00" stroke-width="1" fill="none" stroke-linejoin="round"/>
<path d="M240.45 190.9 240.7 179.5 241.78 189.53 242.5 190.9" stroke="#000000" stroke-width="1" fill="none" stroke-linejoin="round"/>
<path d="M243.25 190.9 243.5 179.5 244.58 189.53 245.3 190.9" stroke="#0000ff" stroke-width="1" fill="none" stroke-linejoin="round"/>
<path d="M252.85 190.9 253.1 176 254.18 189.11 254.9 190.9" stroke="#00ffff" stroke-width="1" fill="none" stroke-linejoin="round"/>
<path d="M268.25 190.9 268.5 179 269.58 189.47 270.3 190.9" stroke="#ff0000" stroke-width="1" fill="none" stroke-linejoin="round"/>
<path d="M271.35 190.9 271.6 177 272.68 189.23 273.4 190.9" stroke="#00ffff" stroke-width="1" fill="none" stroke-linejoin="round"/>
<path d="M276.75 190.9 277 177.6 278.08 189.3 278.8 190.9" stroke="#000000" stroke-width="1" fill="none" stroke-linejoin="round"/>
<path d="M283.75 190.9 284 175 285.08 188.99 285.8 190.9" stroke="#ff00ff" stroke-width="1" fill="none" stroke-linejoin="round"/>
<path d="M327.6 190.9 328 131.3 329 150 330.5 165 332.5 180 334.5 190.9" stroke="#ff00ff" stroke-width="1.1" fill="none" stroke-linejoin="round"/>
<path d="M127.4 190.9 127.7 117.7 132.8 117.7 135 156.72 137.2 190.9" stroke="#ff0000" stroke-width="1.2" fill="none" stroke-linejoin="round"/>
<path d="M188.3 190.9 188.6 117.7 192.6 117.7 195.4 156.72 198.2 190.9" stroke="#00ffff" stroke-width="1.2" fill="none" stroke-linejoin="round"/>
<path d="M236.5 190.9 236.8 117.7 241.9 117.7 244 156.72 246.1 190.9" stroke="#00ff00" stroke-width="1.2" fill="none" stroke-linejoin="round"/>
<path d="M266.9 190.9 267.2 117.7 271 117.7 273.25 156.72 275.5 190.9" stroke="#ff00ff" stroke-width="1.2" fill="none" stroke-linejoin="round"/>
<path d="M348.8 190.9 349.1 117.7 353.6 117.7 355.6 156.72 357.6 190.9" stroke="#ff0000" stroke-width="1.2" fill="none" stroke-linejoin="round"/>
<path d="M370.1 190.9 370.4 117.7 374.9 117.7 376.2 136.6 378.5 165 380.2 190.9" stroke="#ff0000" stroke-width="1.2" fill="none" stroke-linejoin="round"/>
<path d="M383.9 190.9 384.2 117.7 388.2 117.7 393.5 150 394.9 190.9" stroke="#00ff00" stroke-width="1.2" fill="none" stroke-linejoin="round"/>
</g>
<path d="M33.9 191.4 438.3 191.4" stroke="#2ddd2d" stroke-width="1.6" fill="none" stroke-linejoin="round"/>
<rect x="219.6" y="112" width="29.4" height="17.9" fill="#fff"/>
<path d="M36.4 293.8H44.4M438.2 293.8H430.2M36.4 291.26H40.7M438.2 291.26H433.9M36.4 288.71H40.7M438.2 288.71H433.9M36.4 286.17H40.7M438.2 286.17H433.9M36.4 283.63H40.7M438.2 283.63H433.9M36.4 281.08H44.4M438.2 281.08H430.2M36.4 278.54H40.7M438.2 278.54H433.9M36.4 275.99H40.7M438.2 275.99H433.9M36.4 273.45H40.7M438.2 273.45H433.9M36.4 270.91H40.7M438.2 270.91H433.9M36.4 268.36H44.4M438.2 268.36H430.2M36.4 265.82H40.7M438.2 265.82H433.9M36.4 263.28H40.7M438.2 263.28H433.9M36.4 260.73H40.7M438.2 260.73H433.9M36.4 258.19H40.7M438.2 258.19H433.9M36.4 255.65H44.4M438.2 255.65H430.2M36.4 253.1H40.7M438.2 253.1H433.9M36.4 250.56H40.7M438.2 250.56H433.9M36.4 248.01H40.7M438.2 248.01H433.9M36.4 245.47H40.7M438.2 245.47H433.9M36.4 242.93H44.4M438.2 242.93H430.2M36.4 240.38H40.7M438.2 240.38H433.9M36.4 237.84H40.7M438.2 237.84H433.9M36.4 235.3H40.7M438.2 235.3H433.9M36.4 232.75H40.7M438.2 232.75H433.9M36.4 230.21H44.4M438.2 230.21H430.2M36.4 227.66H40.7M438.2 227.66H433.9M36.4 226.8V229M36.4 293.8V291.6M56.49 226.8V228.1M56.49 293.8V292.5M76.58 226.8V228.1M76.58 293.8V292.5M96.67 226.8V228.1M96.67 293.8V292.5M116.76 226.8V229M116.76 293.8V291.6M136.85 226.8V228.1M136.85 293.8V292.5M156.94 226.8V228.1M156.94 293.8V292.5M177.03 226.8V228.1M177.03 293.8V292.5M197.12 226.8V229M197.12 293.8V291.6M217.21 226.8V228.1M217.21 293.8V292.5M237.3 226.8V228.1M237.3 293.8V292.5M257.39 226.8V228.1M257.39 293.8V292.5M277.48 226.8V229M277.48 293.8V291.6M297.57 226.8V228.1M297.57 293.8V292.5M317.66 226.8V228.1M317.66 293.8V292.5M337.75 226.8V228.1M337.75 293.8V292.5M357.84 226.8V229M357.84 293.8V291.6M377.93 226.8V228.1M377.93 293.8V292.5M398.02 226.8V228.1M398.02 293.8V292.5M418.11 226.8V228.1M418.11 293.8V292.5M438.2 226.8V229M438.2 293.8V291.6" stroke="#1a1a1a" stroke-width="1" fill="none"/>
<path d="M36.4 226.8H438.2 M36.4 226.8V293.8 M438.2 226.8V293.8 M36.4 293.8H438.2" stroke="#1a1a1a" stroke-width="1.3" fill="none" stroke-linecap="square"/>
<g clip-path="url(#cpC)">
<path d="M36.4 293.8 37.91 293.8 37.92 277.93 41.2 280.52 44.8 282.88 48.4 284.82 52 286.42 56.2 287.92 60.4 289.12 65.2 290.2 70.6 291.11 82 292.35 97 293.16 116.8 293.58 146.59 293.76 146.6 242.42 149.8 253.6 153.4 263.3 155.2 267.23 157.6 271.7 159.4 274.55 161.8 277.78 164.2 280.48 166.6 282.72 169 284.58 172 286.47 175 287.98 178.6 289.38 182.2 290.45 186.15 291.32 186.16 274.92 188.8 278.82 191.2 281.65 193.6 283.95 196.6 286.22 200.2 288.26 203.8 289.76 208 291 212.29 291.87 212.3 273.96 214 276.97 216.4 280.45 218.8 283.21 221.2 285.41 223.6 287.14 226.6 288.82 229.6 290.07 233.2 291.17 236.8 291.94 241 292.56 250.6 293.31 264.4 293.67 289.79 293.79 289.8 254.63 292 260.92 294.4 266.64 296.8 271.37 299.8 276.13 302.8 279.89 306.4 283.36 310 285.96 314.2 288.19 318.4 289.78 323.2 291.06 328.6 292.02 334.6 292.69 341.8 293.18 350.8 293.5 378.79 293.77 378.8 256.92 380.8 262.97 382.6 267.56 385 272.64 387.4 276.74 389.8 280.04 392.8 283.28 395.8 285.76 398.59 287.54 398.6 252.34 401.8 262.56 403.6 267.16 405.4 271.08 407.2 274.42 409 277.28 410.8 279.71 413.2 282.4 415.6 284.58 418 286.35 420.4 287.77 423.4 289.18 426.4 290.25 430 291.22 437.8 292.51" stroke="#000000" stroke-width="1.05" fill="none" stroke-linejoin="round"/>
<path d="M36.4 293.8 41.99 293.8 42 272.18 44.8 277.2 47.8 281.29 51.4 284.89 55 287.45 59.2 289.53 64 291.08 69.4 292.17 76 292.92 83.8 293.38 93.4 293.63 130.36 293.79 130.37 283.06 134.8 285.32 139.6 287.23 145 288.87 151 290.22 157.6 291.28 164.8 292.08 173.2 292.7 182.75 293.14 182.76 275.34 184.6 278.48 186.4 281.03 188.2 283.15 190.6 285.45 193 287.25 195.4 288.66 198.4 290 201.45 291.01 201.46 276.9 204.4 279.59 207.4 281.89 211 284.17 214.6 286.01 218.8 287.72 223 289.05 227.8 290.22 232.6 291.1 244 292.42 258.4 293.21 277.6 293.61 308.19 293.77 308.2 253.86 310.6 260.81 313.6 267.82 316.6 273.34 320.2 278.44 323.8 282.27 328 285.55 332.8 288.17 338.2 290.14 342.4 291.18 346.6 291.92 352 292.58 358 293.04 373 293.57 397.43 293.77 397.44 285.56 401.8 288.03 407.2 290.09 413.2 291.53 419.67 292.46 419.68 284.69 423.4 287.11 427.6 289.09 432.4 290.64 437.8 291.78" stroke="#000000" stroke-width="1.05" fill="none" stroke-linejoin="round"/>
<path d="M36.4 293.8 52.72 293.8 52.73 291.13 57.4 292.11 63.4 292.86 70 293.31 79.19 293.6 79.2 269.64 81.4 274.06 83.8 277.98 86.2 281.11 88.6 283.63 91 285.64 94 287.61 97.6 289.36 101.2 290.61 105.4 291.63 109.6 292.33 120.4 293.26 135.4 293.66 163.6 293.79 163.6 253.1 166 261.75 169 270.03 172 276.16 175 280.72 178.6 284.66 180.4 286.16 182.8 287.78 185.2 289.06 187.6 290.07 192.59 291.53 192.6 266.84 195.4 272.04 198.4 276.5 202 280.66 205.6 283.83 209.8 286.57 214 288.55 218.8 290.17 224.29 291.41 224.3 267.85 227.2 273.92 230.2 278.71 233.8 282.96 237.4 286.01 241.6 288.51 246.4 290.39 251.8 291.73 258.4 292.67 271 293.44 291.12 293.74 291.13 274.49 293.2 278.15 295.6 281.54 298 284.2 300.4 286.28 303.4 288.25 306.4 289.71 310 290.97 313.6 291.83 318.4 292.59 324.33 293.14 324.34 285.97 328.6 288.27 332.8 289.87 338.2 291.27 344.2 292.25 350.8 292.9 359.2 293.35 385.39 293.75 385.4 268.11 388.6 275.28 390.4 278.39 392.8 281.75 395.2 284.37 397.6 286.42 400 288.03 403 289.55 406.08 290.7 406.09 287.06 413.2 289.39 421.19 291.06 421.2 280.47 424.6 283.73 428.8 286.68 433 288.76 437.8 290.41" stroke="#000000" stroke-width="1.05" fill="none" stroke-linejoin="round"/>
<path d="M36.4 293.8 36.89 293.8 36.9 276.25 38.8 279 40.6 281.21 43 283.65 45.4 285.61 47.8 287.2 50.8 288.76 53.8 289.95 57.4 291.01 64.6 292.34 74.2 293.18 86.8 293.6 106.49 293.77 106.5 257.68 109.6 265.37 112.6 271.26 116.2 276.73 118 278.95 120.4 281.46 122.8 283.55 125.2 285.28 130 287.92 136 290.1 142.82 291.62 142.83 290.23 148 291.61 154.43 292.61 154.44 281.38 157 283.57 159.4 285.28 161.8 286.7 164.8 288.14 167.8 289.29 171.4 290.37 178.6 291.81 187 292.75 198.4 293.36 213.4 293.66 236.68 293.78 236.69 278.77 241 282.78 243.4 284.53 246.4 286.33 251.8 288.74 258.4 290.65 265.6 291.92 274.6 292.82 286 293.37 301.19 293.66 301.2 265.57 304 271.21 307.6 276.84 311.2 281.06 314.8 284.24 319 286.95 323.8 289.13 329.2 290.76 335.39 291.94 335.4 260.73 338.2 267.42 340.6 272.07 343 275.9 346 279.75 349.6 283.3 353.2 285.95 357.4 288.21 361.6 289.81 365.8 290.96 371.2 291.96 377.2 292.67 384.4 293.17 402.4 293.65 437.8 293.79" stroke="#00ffff" stroke-width="1.05" fill="none" stroke-linejoin="round"/>
<path d="M36.4 293.8 50 293.8 50.01 281.64 53.2 284.34 56.2 286.33 59.8 288.17 64 289.75 68.8 291.02 73.6 291.9 79 292.55 85.6 293.06 101.8 293.59 130.49 293.78 130.5 284.13 133.6 285.88 137.2 287.51 140.8 288.81 144.4 289.84 152.8 291.49 163.6 292.65 168.1 292.94 168.11 285.91 173.2 288.46 178.6 290.26 185.2 291.67 193.6 292.68 203.2 293.26 215.2 293.58 259.99 293.79 260 239.37 262.6 249.6 265.6 259.04 268.6 266.46 272.2 273.31 275.8 278.44 277.6 280.5 280 282.83 284.2 285.96 286.6 287.33 289.6 288.71 295.6 290.65 303.36 292.11 303.37 289.55 309.4 290.78 316 291.72 323.8 292.46 332.95 293 332.96 288.12 336.4 289.54 340.6 290.8 345.4 291.79 350.7 292.51 350.71 290.32 357.4 291.85 365.8 292.86 376.6 293.43 392.99 293.71 393 234.53 396.4 249.38 398.2 255.68 400 261.08 401.8 265.71 404.2 270.89 406.6 275.11 409 278.55 411.4 281.36 414.4 284.16 417.4 286.32 420.4 288 424 289.53 428.2 290.81 432.4 291.71 437.8 292.48" stroke="#00ffff" stroke-width="1.05" fill="none" stroke-linejoin="round"/>
<path d="M36.4 293.8 57.49 293.8 57.5 272.94 59.8 276.76 62.2 280 64.6 282.63 67 284.75 70 286.85 73 288.46 76.6 289.91 80.2 290.96 84.4 291.84 88.6 292.44 99.4 293.28 115 293.67 142.69 293.79 142.7 269.89 144.4 273.54 146.2 276.8 148 279.54 149.8 281.83 151.6 283.76 154 285.85 156.4 287.51 158.8 288.82 161.2 289.86 164.2 290.86 170.8 292.25 179.2 293.12 190.6 293.58 190.6 232.75 198.4 232.75 200.2 241.26 202 248.57 203.8 254.87 205.6 260.3 207.4 264.96 209.8 270.19 212.2 274.47 215.2 278.75 217 280.84 219.4 283.19 221.8 285.11 224.8 287.04 227.8 288.53 230.8 289.7 237.4 291.43 243.4 292.36 251.2 293.05 260.8 293.46 274.19 293.69 274.2 245.22 277 255.14 280 263.53 283.6 271.23 287.2 276.98 289 279.27 291.4 281.86 295.6 285.32 298 286.83 301 288.34 304 289.53 307.25 290.52 307.26 278.07 311.8 281.62 317.2 284.82 323.2 287.4 329.8 289.39 338.9 291.16 338.91 287.24 341.2 288.55 344.2 289.89 347.2 290.88 350.8 291.75 355 292.44 359.8 292.95 369.4 293.33 391.6 293.66 430.26 293.78 430.27 275.58 434.2 278.98 437.8 281.53" stroke="#00ffff" stroke-width="1.05" fill="none" stroke-linejoin="round"/>
<path d="M36.4 293.8 40.96 293.8 40.97 285.77 44.2 287.23 47.8 288.54 55.6 290.56 64.6 291.95 76 292.89 93.19 293.49 93.2 288.03 97 289.59 101.2 290.83 105.4 291.7 110.78 292.46 110.79 286.05 115 288.41 119.8 290.25 125.2 291.57 131.8 292.54 139.6 293.16 149.2 293.52 183.59 293.79 183.6 272.94 186.4 277.39 190 281.74 193.6 284.94 197.8 287.61 202 289.48 207.4 291.08 213.4 292.17 221.2 292.97 221.2 255.39 223 261.3 224.8 266.3 226.6 270.53 228.4 274.11 230.2 277.14 232.6 280.47 235 283.13 237.4 285.26 239.8 286.97 242.8 288.63 245.8 289.88 249.4 291 253 291.79 257.2 292.44 268 293.3 268 232.75 276.4 232.75 280 247.81 283 257.99 286 265.91 287.8 269.79 289.6 273.14 291.4 276.02 293.8 279.24 295.6 281.27 298 283.54 300.4 285.4 302.8 286.92 305.8 288.44 308.8 289.63 313 290.86 318.4 291.93 324.4 292.66 330.99 293.14 331 234.02 333.4 244.46 336.4 254.98 339.4 263.26 342.4 269.77 346 275.78 349.6 280.28 353.8 284.14 356.2 285.83 358.6 287.22 361.6 288.62 364.6 289.73 371.2 291.4 379.6 292.57 389.8 293.26 416.37 293.74 416.38 289.83 424.6 291.48 434.56 292.59 434.57 289.89 437.8 290.69" stroke="#ff00ff" stroke-width="1.05" fill="none" stroke-linejoin="round"/>
<path d="M36.4 293.8 52.61 293.8 52.62 286.39 55.6 288.18 59.2 289.78 62.8 290.93 67 291.86 71.8 292.56 77.2 293.05 92.39 293.62 92.4 283.63 94.6 285.61 96.4 286.94 100.6 289.26 106 291.13 112.56 292.4 112.57 273.95 115.6 277.53 119.2 280.96 122.8 283.67 127 286.12 131.2 287.97 136 289.55 141.4 290.82 147.4 291.79 157.6 292.77 170.8 293.37 188.2 293.66 216.84 293.78 216.85 287 220.6 288.34 224.8 289.53 229.6 290.58 234.4 291.37 246.4 292.6 261.79 293.31 261.8 233.52 265 246.52 268 256.15 271.6 265.15 275.2 272 277 274.79 279.4 277.95 281.8 280.59 284.2 282.79 286.6 284.63 289.6 286.49 292.6 287.98 296.2 289.37 302.2 290.99 309.4 292.17 317.8 292.94 328.79 293.43 328.8 233.52 331 244.98 333.4 255.01 335.8 262.98 338.8 270.68 341.8 276.46 343.6 279.21 345.4 281.52 347.2 283.47 349.6 285.59 353.8 288.31 357.4 289.91 361.6 291.2 365.8 292.06 371.2 292.76 377.2 293.22 385 293.52 410.13 293.78 410.14 284.95 415.6 287.27 422.2 289.28 429.4 290.78 437.8 291.91" stroke="#ff00ff" stroke-width="1.05" fill="none" stroke-linejoin="round"/>
<path d="M36.4 293.8 85.39 293.8 85.4 252.34 88.6 263.25 91.6 270.85 93.4 274.47 95.8 278.43 97.6 280.85 100 283.5 102.4 285.61 104.8 287.28 107.8 288.91 110.8 290.12 113.8 291.04 117.4 291.84 126.4 292.97 133.6 293.38 143.2 293.63 178.19 293.79 178.2 251.58 180.4 258.25 182.8 264.34 185.2 269.38 187.6 273.56 190.6 277.79 193.6 281.14 196.6 283.79 200.2 286.25 203.8 288.1 208 289.7 212.8 290.98 217.6 291.86 223.6 292.59 230.2 293.08 248.59 293.63 248.6 247 251.2 256.83 253.6 264.06 256.6 271.14 258.4 274.56 260.2 277.46 263.8 282.01 267.4 285.29 269.8 286.96 272.2 288.3 277.24 290.31 277.25 279.83 280.6 283.35 284.2 286.15 288.4 288.48 293.2 290.29 298 291.48 304.6 292.39 312.4 293.02 322.19 293.43 322.2 245.47 325 255.97 327.4 263.14 330.4 270.22 332.2 273.66 334 276.59 337.6 281.24 339.4 283.07 341.8 285.11 344.2 286.75 346.6 288.09 349.6 289.41 352.6 290.42 358.6 291.8 365.51 292.71 365.52 276.37 370 280.14 375.4 283.62 381.4 286.46 388 288.67 395.2 290.33 403.6 291.61 413.2 292.5 424.99 293.11 425 252.34 427.6 260.44 430.6 267.85 434.2 274.6 437.8 279.59" stroke="#ff00ff" stroke-width="1.05" fill="none" stroke-linejoin="round"/>
<path d="M36.4 293.8 38.75 293.8 38.76 275.25 41.2 278.28 43.6 280.78 46 282.88 49 285.03 52 286.76 55.6 288.39 59.2 289.64 63.4 290.74 69.4 291.83 76 292.58 83.8 293.11 94 293.47 94 280.83 97 284.24 100 286.75 103.6 288.92 107.49 290.51 107.5 247 110.2 258.11 113.2 267.38 115 271.75 116.8 275.39 118.6 278.44 120.4 280.97 122.2 283.09 124.6 285.39 127 287.19 130 288.91 133 290.18 136 291.12 139.6 291.93 143.2 292.5 150.4 293.17 159.98 293.56 159.99 274.31 163 278.45 166.6 282.26 170.2 285.13 174.4 287.59 179.2 289.56 184.6 291.04 190.6 292.08 197.8 292.83 213.4 293.52 239.08 293.76 239.09 289.09 243.4 290.48 247.6 291.44 252.4 292.2 258 292.79 258.01 280.03 261.4 282.35 265.6 284.7 269.8 286.56 274.6 288.23 279.4 289.51 284.8 290.61 290.8 291.5 297.4 292.19 305.8 292.78 315.8 293.21 315.81 284.26 318.4 286.07 320.8 287.44 326.2 289.69 332.8 291.4 341.2 292.58 350.8 293.24 363.4 293.6 414.29 293.8 414.3 249.54 416.2 257.07 418.6 264.78 421 270.87 424 276.72 427 281.07 430 284.32 433.6 287.14 437.8 289.39" stroke="#0000ff" stroke-width="1.05" fill="none" stroke-linejoin="round"/>
<path d="M36.4 293.8 72.16 293.8 72.17 280.37 74.8 282.8 77.2 284.63 80.2 286.5 83.2 287.99 86.2 289.17 89.8 290.28 93.4 291.12 97.89 291.9 97.9 237.84 100.6 249.48 103.6 259.6 106.6 267.41 108.4 271.21 110.2 274.47 113.8 279.64 115.6 281.68 118 283.95 120.4 285.79 122.8 287.29 125.8 288.78 128.69 289.89 128.7 235.55 131.8 249.83 134.8 260.31 136.6 265.35 138.4 269.64 140.2 273.28 142.6 277.29 144.4 279.78 146.8 282.52 149.2 284.73 152.2 286.89 155.2 288.54 158.2 289.79 161.8 290.91 165.4 291.71 173.2 292.77 183.4 293.39 197.2 293.68 221.58 293.79 221.59 288.79 226 290.61 231.4 291.97 238 292.87 245.8 293.38 245.8 274.82 248.8 279.48 252.4 283.59 254.2 285.18 256.6 286.92 260.8 289.16 265.6 290.84 271.6 292.12 278.8 292.94 288.19 293.45 288.2 261.5 290.8 267.84 293.8 273.62 296.8 278.12 300.4 282.21 304 285.24 308.2 287.78 313 289.78 318.4 291.25 325.6 292.41 335.2 293.18 347.2 293.57 366.01 293.75 366.02 284.33 371.2 286.68 377.2 288.69 383.8 290.26 391 291.42 399.4 292.31 409.6 292.95 422.2 293.38 437.8 293.62" stroke="#0000ff" stroke-width="1.05" fill="none" stroke-linejoin="round"/>
<path d="M36.4 293.8 81.29 293.8 81.3 234.79 84.4 247.78 87.4 257.63 89.2 262.49 91 266.7 94.6 273.5 96.4 276.23 98.8 279.31 101.2 281.85 103.6 283.94 106 285.67 109 287.41 112 288.77 115.63 290.04 115.64 278.43 118 281.28 120.4 283.62 122.8 285.53 125.8 287.42 128.8 288.88 132.4 290.2 136.6 291.3 140.8 292.06 150.4 293.04 163 293.55 181.6 293.75 219.59 293.8 219.6 239.37 222.4 251.06 225.4 260.81 227.2 265.56 229 269.63 230.8 273.11 232.6 276.08 234.4 278.64 236.8 281.47 239.2 283.78 241.6 285.66 244 287.18 247 288.69 250 289.86 253.6 290.91 258.4 291.89 264.02 292.62 264.03 285.22 268 287.4 272.2 289.1 277 290.5 282.4 291.58 288.4 292.37 295.6 292.96 314.39 293.59 314.4 262.51 316.6 268.73 319 274.11 321.4 278.34 324.4 282.37 327.4 285.35 331 287.92 335.2 289.95 339.4 291.28 346 292.5 354.4 293.24 365.8 293.62 383.64 293.77 383.65 273.51 387.4 278.56 389.8 281.11 392.2 283.24 394.6 285.01 397 286.48 402.4 288.95 409 290.87 416.2 292.11 425.8 292.99 437.8 293.48" stroke="#0000ff" stroke-width="1.05" fill="none" stroke-linejoin="round"/>
<path d="M36.4 293.8 47.59 293.8 47.6 259.21 50.2 266.28 53.2 272.66 56.2 277.57 59.2 281.33 62.8 284.72 66.4 287.18 70.6 289.23 76 290.96 80.8 291.94 86.2 292.64 92.8 293.15 100.79 293.48 100.8 277.37 103 280.18 105.4 282.7 107.8 284.76 110.8 286.8 113.8 288.38 116.8 289.6 120.4 290.71 124.6 291.64 129.4 292.37 135.66 292.96 135.67 278.49 139.6 281.46 143.8 284 148.6 286.27 154 288.2 159.4 289.64 166 290.9 173.2 291.85 181.99 292.6 182 236.31 184 244.51 185.8 250.89 187.6 256.44 190 262.74 192.4 267.98 194.8 272.33 197.2 275.95 200.2 279.63 203.2 282.55 206.2 284.87 209.8 287.03 213.4 288.67 217.6 290.09 221.8 291.11 226.6 291.94 232.6 292.63 238.49 293.06 238.5 232.75 245.8 232.75 246.4 233.26 248.2 241.69 250 248.95 251.8 255.2 254.2 262.19 256 266.6 258.4 271.53 260.8 275.57 263.8 279.6 266.2 282.17 268.6 284.28 271.6 286.39 274.6 288.03 277.6 289.3 281.2 290.47 285.4 291.45 289.6 292.15 300.4 293.13 300.4 243.94 303.4 255.54 305.2 261.15 307 265.94 308.8 270.03 311.2 274.57 313 277.39 315.4 280.52 317.8 283.05 320.2 285.1 323.2 287.13 326.2 288.68 329.8 290.07 333.4 291.09 337.6 291.93 341.8 292.51 349 293.11 358.59 293.51 358.6 266.07 361 270.77 363.4 274.67 365.8 277.91 368.2 280.6 371.2 283.33 374.2 285.5 377.8 287.52 381.4 289.04 385 290.2 389.2 291.2 394 292 399.4 292.62 412.6 293.37 432.59 293.71 432.6 239.37 434.8 249.24 437.8 259.88" stroke="#00ff00" stroke-width="1.05" fill="none" stroke-linejoin="round"/>
<path d="M36.4 293.8 51.71 293.8 51.72 276.41 55 280.99 58.6 284.64 62.8 287.61 67 289.61 72.4 291.27 78.4 292.35 86.2 293.1 96.29 293.53 96.3 234.53 98.2 242.55 100 249.13 103.6 259.88 105.4 264.24 107.8 269.2 110.2 273.32 112.6 276.75 115 279.61 118 282.52 121 284.83 124 286.67 127.6 288.38 131.2 289.69 135.4 290.82 139.6 291.64 148 292.66 159.43 293.32 159.44 284.07 163 286.11 166.6 287.73 170.8 289.2 175 290.31 179.8 291.25 185.2 292.02 198.91 293.08 198.92 276.26 202.6 279.58 206.2 282.21 209.8 284.36 214 286.37 218.8 288.15 223.6 289.5 229 290.64 235.6 291.63 243.4 292.41 252.4 292.97 277.28 293.6 277.29 281.69 281.8 284.73 286.6 287.13 292 289.08 298.6 290.71 305.8 291.85 314.2 292.66 324.4 293.21 337.69 293.55 337.7 236.31 339.4 245.48 341.8 255.98 344.2 264.2 347.2 272.01 350.2 277.76 353.2 281.99 356.8 285.63 358.6 287 361 288.48 364 289.88 367 290.92 370.6 291.8 374.8 292.5 385 293.34 399.71 293.7 399.72 280.4 403.6 283.07 407.2 285.06 411.4 286.92 415.6 288.39 420.4 289.69 425.8 290.78 431.2 291.58 437.8 292.28" stroke="#00ff00" stroke-width="1.05" fill="none" stroke-linejoin="round"/>
<path d="M36.4 293.8 52.9 293.8 52.91 281.47 55.6 283.28 58.99 285.2 59 242.42 61 250.02 62.8 255.89 64.6 260.97 67 266.71 68.8 270.34 71.2 274.44 73.6 277.82 76.6 281.23 79.6 283.92 82.6 286.03 86.2 287.97 89.8 289.43 94 290.68 98.8 291.67 104.2 292.42 109.91 292.93 109.92 287.77 110.89 288.19 110.9 234.79 113.8 249.26 116.8 260.5 119.8 268.91 121.6 272.9 123.4 276.24 125.2 279.06 127.6 282.12 130 284.54 132.4 286.47 134.8 287.99 137.8 289.46 140.8 290.55 144.4 291.51 148.6 292.28 153.4 292.84 166.69 293.54 166.7 237.08 169 248.67 171.4 258.25 173.8 265.8 176.8 273.02 179.8 278.38 181.6 280.91 183.4 283.02 185.2 284.79 187.6 286.7 190 288.21 192.4 289.4 195.4 290.53 199 291.52 203.2 292.3 207.45 292.81 207.46 279.7 209.8 281.88 212.2 283.77 215.2 285.72 218.2 287.29 221.2 288.56 224.8 289.75 229 290.81 233.2 291.59 238.6 292.3 244.48 292.82 244.49 284.74 248.2 287.38 251.8 289.2 256 290.69 261.4 291.91 266.8 292.66 274 293.21 294.4 293.71 294.4 234.79 296.8 244.66 299.2 252.88 302.2 261.25 305.2 267.9 308.2 273.2 311.8 278.15 315.4 281.9 319.6 285.16 323.8 287.53 328.6 289.45 334 290.92 340.6 292.06 347.8 292.79 356.8 293.29 384.09 293.74 384.1 232.75 393.4 232.75 395.8 243.4 397.6 250.42 399.4 256.46 401.8 263.23 404.2 268.77 406.6 273.31 409 277.02 412 280.73 414.4 283.1 416.8 285.04 419.8 286.98 422.8 288.49 425.8 289.66 429.4 290.74 433.6 291.64 437.8 292.28" stroke="#00ff00" stroke-width="1.05" fill="none" stroke-linejoin="round"/>
<path d="M36.4 293.8 47.39 293.8 47.4 259.21 50.2 266.76 52.6 271.91 55.6 276.99 58.6 280.89 62.2 284.4 65.8 286.95 70 289.07 74.8 290.7 82 292.15 91.11 293.06 91.12 276.07 95.2 279.47 99.4 282.29 104.2 284.84 109.6 287.04 115 288.7 121.6 290.19 128.8 291.32 137.2 292.2 137.2 266.84 139 271.18 141.4 275.9 143.2 278.79 145.6 281.92 148 284.4 151 286.79 154 288.57 157.39 290.04 157.4 243.18 160 253.58 163 262.96 164.8 267.5 166.6 271.37 168.4 274.67 170.2 277.49 172 279.89 174.4 282.55 176.8 284.7 179.2 286.44 181.6 287.85 184.6 289.24 190.6 291.12 197.8 292.38 207.4 293.19 219.4 293.59 238.87 293.76 238.88 284.84 245.2 287.41 251.8 289.31 259.6 290.84 269.2 292.03 279.4 292.77 292.11 293.28 292.12 290.26 299.8 291.57 308.2 292.45 318.4 293.07 330.99 293.46 331 253.86 333.4 262.44 336.4 270.62 339.4 276.66 341.2 279.5 343 281.87 344.8 283.85 347.2 285.99 351.4 288.68 353.8 289.78 356.8 290.83 363.39 292.27 363.4 232.75 365.2 241.82 367.6 251.86 370 259.95 372.4 266.48 375.4 272.91 378.4 277.82 381.4 281.58 385 284.94 388 287.02 391.6 288.89 395.8 290.42 400 291.48 404.46 292.24 404.47 288.74 409.99 290.13 410 233.77 412.6 247.83 415 257.86 418 267.38 421 274.38 422.8 277.66 424.6 280.38 426.4 282.64 428.2 284.52 430 286.09 432.4 287.77 434.8 289.09 437.8 290.34" stroke="#ff0000" stroke-width="1.05" fill="none" stroke-linejoin="round"/>
<path d="M36.4 293.8 64.49 293.8 64.5 281.59 67 284.19 70 286.59 73 288.39 76.6 289.97 80.8 291.24 85 292.08 90.4 292.78 97 293.26 97 268.62 100 274.03 103 278.27 106.6 282.18 110.2 285.11 114.4 287.6 119.2 289.59 124.6 291.08 130.29 292.08 130.3 232.75 138.4 232.75 139 233.76 140.8 242.12 142.6 249.32 144.4 255.52 146.2 260.85 148 265.44 150.4 270.58 152.8 274.79 155.8 278.99 157.6 281.06 160 283.37 162.4 285.26 165.4 287.15 168.4 288.62 171.4 289.77 175 290.81 179.2 291.69 187.6 292.75 198.4 293.37 213.4 293.68 238.18 293.78 238.19 274.92 241.6 279.73 245.2 283.48 249.4 286.62 253.6 288.8 259 290.66 265 291.93 272.2 292.79 281.99 293.37 282 244.71 284.2 253.5 286.6 261.3 289 267.6 291.4 272.67 294.4 277.65 297.4 281.46 301 284.87 305.2 287.67 308.2 289.12 311.2 290.22 314.8 291.21 318.4 291.92 327.4 292.96 340.22 293.53 340.23 288.86 348.84 290.72 348.85 282.4 350.8 284.39 353.2 286.38 355.6 287.94 358 289.18 363.4 291.09 370.39 292.44 370.4 232.75 378.4 232.75 379 233.76 381.4 244.64 383.8 253.55 386.2 260.85 388.6 266.82 391.6 272.79 394.6 277.44 397.6 281.06 401.2 284.36 403.6 286.07 406.6 287.78 409.6 289.11 413.2 290.33 416.8 291.23 421 291.99 430.85 293 430.86 282.76 434.2 284.56 437.8 286.17" stroke="#ff0000" stroke-width="1.05" fill="none" stroke-linejoin="round"/>
<path d="M36.4 293.8 88.49 293.8 88.5 265.57 91.6 271.83 94.6 276.57 98.2 280.93 102.4 284.64 106.6 287.28 111.4 289.38 117.4 291.08 124 292.21 124 245.47 125.8 252.62 127.6 258.71 129.4 263.89 131.2 268.32 133 272.08 135.4 276.26 137.8 279.63 140.2 282.35 142.01 284.05 142.02 282.5 144.4 284.43 146.88 286.1 146.89 276.83 149.2 280.05 151.6 282.75 154 284.92 156.4 286.66 159.4 288.37 162.4 289.67 166 290.82 169.6 291.65 176.2 292.62 184.6 293.25 195.4 293.6 212.29 293.76 212.3 273.96 215.2 278.96 217 281.41 218.8 283.45 222.4 286.58 226.6 289.06 231.4 290.87 236.8 292.09 243.4 292.92 252.49 293.45 252.5 256.15 254.2 262.01 256.6 268.75 259 274.07 262 279.15 265 282.93 268.6 286.2 272.2 288.49 276.4 290.3 280 291.35 283.6 292.09 287.8 292.67 293.2 293.14 306.4 293.62 330.54 293.78 330.55 276.84 332.8 279.86 334.6 281.89 336.4 283.62 338.8 285.54 341.2 287.1 343.6 288.37 346.6 289.62 349.59 290.58 349.6 232.75 356.2 232.75 358.6 243.4 361 252.54 363.4 260.02 366.4 267.49 369.4 273.31 372.4 277.84 376 281.98 380.2 285.47 384.89 288.16 384.9 244.71 386.8 252.22 388.6 258.28 390.4 263.45 392.8 269.2 394.6 272.78 397 276.76 399.4 279.98 402.4 283.17 405.4 285.62 408.4 287.51 412 289.21 415.6 290.45 419.8 291.48 425.2 292.35 431.2 292.94 437.8 293.32" stroke="#ff0000" stroke-width="1.05" fill="none" stroke-linejoin="round"/>
</g>
<path d="M37.1 293.8 437.5 293.8" stroke="#2ddd2d" stroke-width="1.6" fill="none" stroke-linejoin="round"/>
<path d="M27.9 412.4H35.5M444.6 412.4H437M27.9 410.02H30.9M444.6 410.02H441.6M27.9 407.64H30.9M444.6 407.64H441.6M27.9 405.25H30.9M444.6 405.25H441.6M27.9 402.87H30.9M444.6 402.87H441.6M27.9 400.49H35.5M444.6 400.49H437M27.9 398.11H30.9M444.6 398.11H441.6M27.9 395.73H30.9M444.6 395.73H441.6M27.9 393.35H30.9M444.6 393.35H441.6M27.9 390.96H30.9M444.6 390.96H441.6M27.9 388.58H35.5M444.6 388.58H437M27.9 386.2H30.9M444.6 386.2H441.6M27.9 383.82H30.9M444.6 383.82H441.6M27.9 381.44H30.9M444.6 381.44H441.6M27.9 379.06H30.9M444.6 379.06H441.6M27.9 376.67H35.5M444.6 376.67H437M27.9 374.29H30.9M444.6 374.29H441.6M27.9 371.91H30.9M444.6 371.91H441.6M27.9 369.53H30.9M444.6 369.53H441.6M27.9 367.15H30.9M444.6 367.15H441.6M27.9 364.77H35.5M444.6 364.77H437M27.9 362.38H30.9M444.6 362.38H441.6M27.9 360H30.9M444.6 360H441.6M27.9 357.62H30.9M444.6 357.62H441.6M27.9 355.24H30.9M444.6 355.24H441.6M27.9 352.86H35.5M444.6 352.86H437M27.9 350.48H30.9M444.6 350.48H441.6M27.9 412.4V410.2M38.32 412.4V411.1M48.73 412.4V411.1M59.15 412.4V411.1M69.57 412.4V411.1M79.99 412.4V411.1M90.4 412.4V411.1M100.82 412.4V411.1M111.24 412.4V411.1M121.66 412.4V411.1M132.08 412.4V410.2M142.49 412.4V411.1M152.91 412.4V411.1M163.33 412.4V411.1M173.75 412.4V411.1M184.16 412.4V411.1M194.58 412.4V411.1M205 412.4V411.1M215.42 412.4V411.1M225.83 412.4V411.1M236.25 412.4V410.2M246.67 412.4V411.1M257.08 412.4V411.1M267.5 412.4V411.1M277.92 412.4V411.1M288.34 412.4V411.1M298.75 412.4V411.1M309.17 412.4V411.1M319.59 412.4V411.1M330.01 412.4V411.1M340.43 412.4V410.2M350.84 412.4V411.1M361.26 412.4V411.1M371.68 412.4V411.1M382.1 412.4V411.1M392.51 412.4V411.1M402.93 412.4V411.1M413.35 412.4V411.1M423.77 412.4V411.1M434.18 412.4V411.1M444.6 412.4V410.2" stroke="#1a1a1a" stroke-width="1" fill="none"/>
<path d="M27.9 350H444.6 M27.9 350V412.4 M444.6 350V412.4 M27.9 412.4H444.6" stroke="#1a1a1a" stroke-width="1.7" fill="none" stroke-linecap="square"/>
<g clip-path="url(#cpD)">
<path d="M25.03 364.57 30.01 370.2 33.13 355.53 34.52 355.53 42.56 370.22 44.95 357.62 45.63 357.62 55.79 364.77 58.15 355.24 59.12 355.24 69.13 371.39 71.71 355.24 71.99 355.24 81.11 367.99 83.02 357.46 84.02 357.46 94.97 372.52 97.45 357.62 98.78 357.62 107.76 364.77 110.22 355.24 111.37 355.24 120.44 369.54 122.61 356.68 124.36 356.68 134.32 369.9 137.2 355.24 137.96 355.24 146.96 371.9 149.71 357.47 150.76 357.47 160.44 367.4 163.6 355.24 164.45 355.24 173.35 370.24 175.94 356.95 177.01 356.95 185.63 370.9 188.37 355.24 189.97 355.24 199.71 373.33 202.49 355.24 203.56 355.24 213.11 369.13 215.33 355.24 217.11 355.24 225.75 373.08 227.79 355.24 229.76 355.24 238.39 368.79 240.94 355.56 241.59 355.56 251.53 369.22 254.31 355.24 255.33 355.24 264 367.93 266.94 360.36 267.83 360.36 276.97 369.08 279.68 358.11 281.3 358.11 290.46 371.06 292.9 355.24 304.66 369.59 306.79 355.24 307.62 355.24 317.78 368.32 320.33 355.47 321.95 355.47 330.51 369.71 332.82 355.24 334.11 355.24 342.95 374.36 344.72 356.98 345.43 356.98 355.39 370.83 357.76 355.24 359.07 355.24 368.53 369.82 371.21 356.6 372.55 356.6 381.62 371.49 384.77 355.75 386.35 355.75 394.54 376.78 397.11 355.24 398.19 355.24 407.94 376.33 409.47 355.24 411.03 355.24 420.06 374.69 421.91 355.24 424.3 355.24 434.19 371.27 435.83 359.68 436.78 359.68 447.24 372.54" stroke="#00ffff" stroke-width="1" fill="none" stroke-linejoin="round"/>
<path d="M25.9 371.86 28.98 378.98 31.58 355.24 32.49 355.24 41.41 369.53 43.24 355.26 43.84 355.26 54.72 378.26 57.79 355.24 59.06 355.24 68.29 375.99 70 357.21 71.5 357.21 81.38 377.22 84.28 361.19 85.78 361.19 94.12 373.09 96.32 355.24 97.34 355.24 107.24 376.7 109.08 362.03 110.04 362.03 119.79 370.68 121.98 355.24 123.28 355.24 133.38 372.15 135.55 355.24 136.45 355.24 146.47 377.23 149.06 355.24 150.3 355.24 158.86 374.73 160.85 355.24 161.8 355.24 172.27 375.49 174.68 355.24 175.91 355.24 184.72 374.06 187.31 357.49 188.21 357.49 197.58 373.59 200.44 356 200.69 356 210.81 378.09 213.35 355.24 215 355.24 224.09 376.51 226.54 356.37 228.1 356.37 236.63 376.48 238.68 355.24 239.33 355.24 250.42 378.81 253.5 355.24 254.44 355.24 263.68 375.14 265.56 355.24 266.39 355.24 276.97 379.82 279.89 356.36 280.93 356.36 289.08 378.68 290.86 358.77 291.66 358.77 302.65 375.45 306.24 359.68 307.3 359.68 315.24 366.83 318.53 357.32 319.96 357.32 328.95 377.65 330.8 355.92 331.79 355.92 341.53 372.38 343.89 356.91 345.17 356.91 354.11 373.82 356.76 359.8 358.13 359.8 367.52 368.88 369.5 356.35 371.14 356.35 380.84 371.37 383.43 356.39 385.11 356.39 394.46 374.77 396.59 358.29 398.07 358.29 406.53 377.09 409.52 355.24 410.01 355.24 420.7 371.05 423.11 356.09 424.07 356.09 432.22 370.02 434.65 355.24 435.79 355.24 445.72 375.24 447.19 365.88" stroke="#ff00ff" stroke-width="1" fill="none" stroke-linejoin="round"/>
<path d="M25.33 363.5 31.08 375 33.15 357.68 33.62 357.68 44.55 374.27 47.15 355.24 48.29 355.24 57.04 372.1 58.82 357.34 59.54 357.34 70.44 374.3 72.6 355.24 73.56 355.24 82.72 378.75 85.25 355.24 85.61 355.24 95.87 380.03 97.35 356.67 98.43 356.67 108.75 377.05 111.24 355.24 113.44 355.24 122.07 369.25 124.91 355.24 125.7 355.24 135.54 376.29 137.79 358.8 138.39 358.8 148.76 379.93 150.99 360.97 151.42 360.97 161.6 374.3 163.13 359.59 163.91 359.59 174.39 377.02 176.73 355.24 177.62 355.24 186.87 376.16 188.87 355.24 189.57 355.24 200.79 378.05 201.96 355.81 202.92 355.81 214.66 370.83 216.2 356.73 217.16 356.73 227.06 373.34 229.22 355.52 229.96 355.52 239.31 380.45 241.69 355.43 242.89 355.43 252.13 383.24 254.56 355.28 255.29 355.28 266.38 375.95 268.4 357.24 278.35 380.67 280.27 355.8 281.79 355.8 291.7 380.11 293.99 355.24 304.33 368.82 306.03 359.83 306.6 359.83 317.89 370.82 320.06 356.99 320.71 356.99 331.35 380.3 333.58 358.3 334.02 358.3 344.05 373.33 346.07 357.23 346.56 357.23 356.41 368.13 358.53 355.24 359.9 355.24 369.74 380.15 372.03 358.74 372.82 358.74 382.5 382.44 385.1 355.24 386.15 355.24 395.92 376.83 398.11 358.48 399.78 358.48 408.94 375.53 411.03 355.36 412.4 355.36 422.23 372.14 423.88 355.24 424.29 355.24 435.52 378 438.1 355.24 439.13 355.24 447.21 372.58" stroke="#ff0000" stroke-width="1" fill="none" stroke-linejoin="round"/>
<path d="M25.16 361.41 30.64 370.68 33.34 355.6 34.63 355.6 42.04 373.21 44.46 355.24 45.02 355.24 56.12 370.76 58.5 357.46 59.18 357.46 69.33 370.94 71.62 359.21 72.59 359.21 82.58 368.41 85.17 356.71 85.8 356.71 95.47 372.21 98.96 355.45 99.94 355.45 108.03 373.86 111.09 357.62 112.21 357.62 121.19 364.77 123.48 358.63 124.01 358.63 134.09 367.33 136.33 355.24 137.34 355.24 148.41 369.48 151.04 355.63 152.08 355.63 161.08 373.24 163.45 355.53 164.3 355.53 174.24 370.72 176.21 357.52 177.03 357.52 187.05 366.76 189.9 360.69 190.88 360.69 199.91 368.73 202.61 355.24 203.09 355.24 212.38 368.72 215.02 357.79 216.16 357.79 224.9 371.98 227.17 355.4 228.62 355.4 237.67 378.37 240.34 355.24 242.01 355.24 252.02 372.61 254.1 356.19 254.92 356.19 264.49 368.83 266.84 355.24 267.97 355.24 278.29 369.3 280.69 355.57 281.09 355.57 291.23 368.04 294.23 355.24 295.1 355.24 303.84 373.13 307.16 355.24 307.7 355.24 316.76 374.02 318.94 355.24 319.77 355.24 331.05 368.53 333.56 357.04 334.94 357.04 343.48 372.55 346.22 355.24 347.39 355.24 356.34 372.33 359.11 355.24 359.67 355.24 369.96 373.79 372.23 355.24 373.71 355.24 381.62 367.4 384.69 355.24 385.56 355.24 395.11 370.8 397.4 355.24 398.55 355.24 408.23 375.55 411.22 355.24 412.51 355.24 422.01 377.16 424.27 355.24 425.39 355.24 433.56 371.12 435.77 355.24 436.99 355.24 447.29 370.35" stroke="#00ff00" stroke-width="1" fill="none" stroke-linejoin="round"/>
<path d="M25.82 370.97 28.01 374.9 30.23 355.24 32.25 355.24 41.06 370.69 43.94 357.01 44.98 357.01 54.45 370.42 56.2 355.24 56.75 355.24 67.03 372.78 69.79 355.24 70.85 355.24 79.73 373.29 82.35 355.24 83.65 355.24 93.8 375.72 96.77 358.22 97.96 358.22 106.03 376 108.85 359.7 109.66 359.7 118.77 366.84 121.3 355.24 123.23 355.24 132.34 376.8 134.36 356.58 135.28 356.58 146.72 377.63 148.98 355.24 150.43 355.24 157.64 375.74 160.02 355.24 160.49 355.24 171.54 369.69 174.32 357.76 175.65 357.76 183.31 375.5 185.76 355.24 187.25 355.24 198.08 382.84 200.58 359.61 202 359.61 210.76 367.66 213.23 358.43 214.05 358.43 223.53 372.89 225.88 357.14 227.1 357.14 236.63 369.73 239.28 355.24 240.19 355.24 249.24 377.89 251.61 355.24 253.02 355.24 262.42 378.5 265.22 359.67 266.38 359.67 275.78 371.44 278.75 355.24 280.07 355.24 287.39 377.76 290.17 355.24 290.66 355.24 301.74 372.07 303.95 356.48 304.55 356.48 316.28 374.95 318.87 357 319.61 357 327.5 373.57 330.35 355.24 331.25 355.24 340.24 377.46 342.73 355.54 344 355.54 353.42 370.97 355.74 357.77 356.68 357.77 367 369.97 369.62 357.21 370.75 357.21 379.23 375.69 382.1 358.51 383.38 358.51 393.28 372.75 395.9 356.17 397.07 356.17 406.13 372.92 408.43 355.54 408.85 355.54 419.16 370.98 421.39 355.67 422.62 355.67 432.15 380.88 435.01 355.81 436.71 355.81 444.77 378.79 446.92 362.83" stroke="#0000ff" stroke-width="1" fill="none" stroke-linejoin="round"/>
<path d="M25.61 372.09 30.1 388.94 32.41 355.24 35.67 355.24 41.31 390.24 43.38 357.29 47.18 357.29 55.47 391.14 58.72 355.24 62.3 355.24 67.46 381.73 69.67 355.24 72.56 355.24 80.28 389.82 82.29 355.24 85.82 355.24 93.9 386.59 96.43 355.24 99.96 355.24 106.92 381.19 109.37 355.24 112.62 355.24 121.42 389.94 123.73 357.46 126.45 357.46 132.56 389.27 135.42 355.73 138.45 355.73 146.5 392.1 149.24 356.84 152.55 356.84 159.23 384.77 161.69 356.3 164.36 356.3 172.31 391.36 174.71 355.24 177.51 355.24 185.27 389.35 187.85 358.31 190.41 358.31 198.52 392.2 199.73 355.24 202.85 355.24 210.68 394.54 213.42 357.74 215.62 357.74 223.96 391.79 225.67 355.65 229.03 355.65 237.75 389.29 239.4 359.07 242.34 359.07 250.65 389.76 253.02 355.24 255.93 355.24 264.06 391.63 266.56 355.24 270.14 355.24 276.36 392.17 278.72 355.24 282.09 355.24 289.95 389.02 291.9 360.19 294.49 360.19 302 380.68 304.62 360.88 308.27 360.88 315.4 385.52 318.31 355.24 321.67 355.24 328.9 383.43 331.41 355.71 334.75 355.71 342.08 388.62 344.13 355.24 346.83 355.24 354.83 383.39 358.17 356.43 361.33 356.43 368.55 389.14 370.61 355.24 373.34 355.24 380.72 379.59 383.43 355.24 386.27 355.24 393.68 380.83 396.22 361.67 400.18 361.67 407.33 390.74 410.13 355.24 413.9 355.24 420.23 383.76 422.39 358.62 426.04 358.62 433.14 389.05 435.32 356.33 437.44 356.33 446.31 390.45 447.02 382.11" stroke="#00ff00" stroke-width="1" fill="none" stroke-linejoin="round"/>
<path d="M25.02 366.94 29.63 393.85 32.42 355.24 35.65 355.24 43.21 391.49 45.71 355.24 48.12 355.24 56.46 389.68 59.36 359.86 61.85 359.86 69.28 382.76 72.69 355.24 74.94 355.24 81.44 394.54 83.87 355.24 86.82 355.24 94.57 391.55 97.34 358.41 99.65 358.41 108.49 394.54 111.34 356.87 113.6 356.87 121.01 390.44 124.06 360.16 126.72 360.16 134.33 394.54 137.23 356.01 140.24 356.01 147.32 385.65 149.76 357.8 151.53 357.8 160.48 394.42 163.75 358.07 166.3 358.07 173.62 387.92 177.13 355.24 180.41 355.24 185.87 390.29 188.75 355.24 190.96 355.24 199.82 391.65 202.71 357.65 204.86 357.65 212.46 386.78 215.89 355.24 218.78 355.24 225.9 385.03 229.21 359.63 232.06 359.63 239.08 386.84 241.69 355.24 244.4 355.24 251.61 388.4 254.46 355.38 257.18 355.38 263.89 394.54 266.97 355.24 269.55 355.24 277.54 388.14 280.55 355.24 282.91 355.24 292.39 392.12 295.24 355.24 297.09 355.24 304.18 387.23 306.88 355.24 308.48 355.24 316.54 392.29 319.89 355.24 322.32 355.24 330.01 387.33 332.69 355.24 334.85 355.24 343.36 390.5 346.5 359.54 348.71 359.54 356.56 393.37 359.83 355.24 362.41 355.24 369.26 394.35 372.19 355.24 374.93 355.24 382.59 385.65 385.79 355.42 388.9 355.42 395.3 391.17 397.98 356.22 400.59 356.22 407.68 391.61 410.55 355.24 413.18 355.24 420.27 389.88 423 356.3 425.2 356.3 434.42 384.73 437.07 359.8 439.64 359.8 447.32 386.66" stroke="#0000ff" stroke-width="1" fill="none" stroke-linejoin="round"/>
<path d="M25.48 367.74 30.63 386.49 33.75 355.24 36.42 355.24 43.64 384.89 46.04 355.24 49.4 355.24 56.58 385.73 59.17 357.33 61.5 357.33 69.9 378.84 71.97 355.24 74.18 355.24 83.27 384.28 84.9 356.78 88.1 356.78 95.41 388.27 97.56 355.24 100.73 355.24 108.78 384.97 111.69 355.24 114.65 355.24 121.18 385.8 123.97 355.24 127.48 355.24 134.9 381.49 137.75 355.24 141.06 355.24 147.53 385.86 150 357.35 152.92 357.35 161.06 388.14 163.72 355.24 167.16 355.24 173.32 380.46 175.68 355.24 178.95 355.24 186.91 385.88 189.08 355.24 192.04 355.24 200.1 380.23 201.85 357.67 204.2 357.67 213.42 380.12 215.67 358.1 218.29 358.1 225.52 378.08 227.9 355.24 231.64 355.24 238.66 381.85 241.1 355.24 244.42 355.24 251.87 382.98 254.6 355.24 257.56 355.24 265.42 380.67 267.65 355.24 271.15 355.24 277.83 384.93 279.75 359.06 282.77 359.06 290.95 382.19 293.17 355.74 296.52 355.74 303.6 390.07 305.86 356.7 309.44 356.7 316.52 377.7 318.86 355.24 322.16 355.24 329.64 377.33 331.91 355.26 335.15 355.26 342.7 383.55 345.5 355.24 348.39 355.24 356.1 383.6 358.74 355.24 361.8 355.24 369.87 383.98 372.65 358.48 375.72 358.48 382.96 380.85 385.55 355.32 388.46 355.32 396.07 377.71 398.19 357.37 401.13 357.37 408.42 382.79 410.59 355.24 414.17 355.24 420.78 386.92 423.1 359.09 425.95 359.09 435.04 387.22 437.81 356.25 441.09 356.25 447.32 389.43" stroke="#000000" stroke-width="1" fill="none" stroke-linejoin="round"/>
<path d="M25.58 377.45 27.86 386.6 30.6 355.84 32.87 355.84 41.69 384.01 43.73 355.58 47.12 355.58 54.02 390.69 56.59 355.24 59.38 355.24 67.49 390.42 69.87 355.24 72.67 355.24 80.28 383.72 82.57 356.85 85.48 356.85 93.08 385.57 96.03 355.24 98.82 355.24 106.57 385.63 109.34 355.24 112.13 355.24 119.59 385.79 122.23 355.24 125.47 355.24 131.97 394.54 134.61 355.24 137.23 355.24 145.74 385.84 147.78 355.24 150.62 355.24 159.62 388.96 161.41 355.52 164.67 355.52 171.29 394.54 173.83 355.24 176.95 355.24 184.11 384.06 186.43 355.24 189.88 355.24 197.7 381.57 200.19 356.13 202.47 356.13 210.93 385.69 212.85 355.24 216.28 355.24 223.01 391.82 225.49 356.13 228.88 356.13 236.69 384.56 239.27 357.06 242.22 357.06 249.67 388.81 252.42 359.59 255.02 359.59 262.41 388.82 264.71 355.24 267.97 355.24 275.67 382.37 278.37 357.21 281.36 357.21 288.93 383.52 291.33 355.24 294.1 355.24 302.17 390.69 305.01 355.24 308.49 355.24 314.68 388.44 316.22 355.24 318.99 355.24 329.07 384.41 332.17 355.24 336.09 355.24 339.96 388.78 342.54 355.73 345.94 355.73 353.86 382.31 356.95 356.05 360.29 356.05 367.39 386.99 370.12 357.09 373.1 357.09 379.87 383.13 382.16 359.23 384.53 359.23 393.72 387.73 395.7 355.24 398.68 355.24 406.95 390.15 409.04 357.81 411.83 357.81 419.09 387.65 421.17 355.97 423.86 355.97 432.39 384.49 434.58 357.37 437.13 357.37 445.7 388.91 446.97 355.43" stroke="#ff0000" stroke-width="1" fill="none" stroke-linejoin="round"/>
<path d="M25.67 368.14 30.47 387.44 33.41 356.65 36.58 356.65 42.47 391.64 45.72 355.24 48.95 355.24 55.07 382.35 58.59 359.12 62.01 359.12 67.65 387.06 70.51 356.11 73.29 356.11 81.89 389.76 84.78 359.31 88.28 359.31 94.99 384.19 97.2 359.81 100.7 359.81 107.08 385.87 110.4 355.24 113.55 355.24 121.42 377.84 124.41 355.7 127.97 355.7 133.92 391.43 137.01 356.92 139.79 356.92 146.31 389.05 149.19 356.35 152.38 356.35 159.43 390.71 162.38 356.66 165.89 356.66 172.79 386.17 176.21 355.47 179.19 355.47 185.57 385.55 188.75 355.24 192.09 355.24 198.26 388.75 200.68 362.05 203.92 362.05 212.07 384.38 215.38 355.24 218.43 355.24 224.94 390.56 227.56 356.64 231.33 356.64 237.71 380.31 240.35 359.11 243.32 359.11 251.07 384.16 253.58 361.86 256.74 361.86 264.73 386.98 268.13 357.13 270.98 357.13 277.09 388.86 280.13 357.53 282.95 357.53 290.58 386.39 292.67 357.18 295.25 357.18 304.26 384.41 307.39 358.47 310.59 358.47 317.01 382.94 319.49 359.42 323.27 359.42 330.18 388.99 332.61 357.67 335.68 357.67 342.62 386.66 344.94 356.69 349.01 356.69 356.06 389.72 359.14 358.25 361.63 358.25 366.94 387.56 369.92 355.24 372.45 355.24 381.94 383.76 384.84 355.24 388.21 355.24 395.07 376.8 397.71 355.24 400.99 355.24 407.13 387.47 409.92 355.83 413.65 355.83 419.9 391.5 423.01 355.24 426.8 355.24 434.8 384.46 437.97 358.68 441.02 358.68 446.7 389.99 447.52 381.3" stroke="#ff00ff" stroke-width="1" fill="none" stroke-linejoin="round"/>
<path d="M25.36 372.22 28.49 388.55 31.76 355.6 34.49 355.6 42.14 387.05 45.35 359.73 48.78 359.73 55.48 386.02 58.27 357.57 61.81 357.57 69.42 386.11 71.41 355.24 75.31 355.24 81.56 394.09 84.85 356.81 88.93 356.81 94.77 388.46 96.68 356.46 100.67 356.46 106.22 394 108.55 355.39 112.26 355.39 119.95 389.82 122.87 355.24 125.99 355.24 132.88 392.33 136.21 355.24 139.94 355.24 146.65 388.12 149.13 355.24 152.66 355.24 159.16 393.22 161.47 355.25 165 355.25 171.92 387.54 174.54 355.31 178.09 355.31 184.48 386.13 186.72 356.88 190.63 356.88 198.89 394.54 201.15 355.24 204.47 355.24 210.79 393.46 213.55 355.27 217.11 355.27 225.06 390.38 227.25 357.47 231.01 357.47 237.53 388.71 241.12 355.24 245.21 355.24 250.35 384.52 253.63 359.22 257.26 359.22 264.58 392.49 267.71 361.44 271.38 361.44 276.45 387.66 278.99 357.16 283.1 357.16 289.81 390.26 292.38 358.75 295.46 358.75 301.6 389.96 304.12 358.26 307.71 358.26 315.94 388.55 318.14 355.24 321.78 355.24 329.28 393.25 331.72 355.24 335.79 355.24 341.7 389.91 344.46 357.85 348.09 357.85 356.21 393.67 358.48 355.24 362.08 355.24 367.17 394.54 370.35 355.95 374.42 355.95 381.16 391.32 383.92 361.07 387 361.07 393.42 392.94 395.49 355.24 399.44 355.24 407.73 389.56 410.79 355.24 414.39 355.24 420.5 387.4 422.69 358.1 425.93 358.1 433.72 386.93 436.01 356.88 439.11 356.88 446.78 387.93 447.41 379.84" stroke="#00ff00" stroke-width="1" fill="none" stroke-linejoin="round"/>
<path d="M25.36 370.67 29.53 393.82 32.12 355.24 35 355.24 43.21 394.54 46.07 355.24 48.9 355.24 55.1 394 58.37 356.16 61.21 356.16 68.54 390.77 72.07 356.25 74.54 356.25 81.08 394.54 83.69 355.24 86.48 355.24 94.5 386.73 97.3 357.37 100.38 357.37 107.51 394.54 110.61 355.24 113.92 355.24 120.58 392.88 123.3 355.24 126.77 355.24 133.47 389.26 135.66 357.51 138.28 357.51 146.66 387.7 148.98 355.24 151.22 355.24 159.38 394.54 162.49 355.24 165.03 355.24 172.86 384.25 175.21 355.24 178.68 355.24 185.63 388.25 188.28 355.24 191.39 355.24 199.79 394.54 202.51 355.24 205.38 355.24 211.79 386.74 214.5 355.41 217.85 355.41 225.08 393.81 227.81 355.24 230.68 355.24 238.12 393.07 240.86 359.19 244.29 359.19 250.84 386.76 253.39 357.88 256.35 357.88 264 392.35 266.8 358.09 269.69 358.09 276.92 394.53 279.21 355.24 282.25 355.24 290.05 392.03 293.1 355.24 295.78 355.24 304.47 390.16 308.13 355.24 310.85 355.24 315.33 394.54 318.19 357.58 320.68 357.58 328.76 388.05 331.71 362.42 334.64 362.42 342.17 394.54 345.01 360.5 348.69 360.5 355.49 390.45 358.58 358.98 361.04 358.98 368.32 392.02 370.39 355.24 373.54 355.24 381.81 391.86 384.82 356.59 387.46 356.59 394.88 394.54 397.74 355.24 400.7 355.24 407.07 386.06 409.67 355.24 412.28 355.24 421.59 392.68 424.59 355.24 427.58 355.24 433.69 391.24 436.54 355.46 440.12 355.46 447.25 394.54" stroke="#ff0000" stroke-width="1" fill="none" stroke-linejoin="round"/>
<path d="M25.31 380.75 28.1 394.54 30.46 359.16 34.18 359.16 41.15 387.98 43.86 355.24 47.83 355.24 54.51 394.54 57.3 355.24 60.68 355.24 68.67 392.45 71.04 355.24 74.03 355.24 81.22 385.33 84.06 355.24 87.48 355.24 94.33 388.95 96.49 356.22 100.41 356.22 106.62 389.09 109.09 355.24 113.52 355.24 119.98 392.05 122.68 355.24 126.09 355.24 133.32 394 135.42 355.24 138.79 355.24 145.31 390.3 147.86 355.24 151.38 355.24 158.65 391.95 161.67 355.24 164.96 355.24 172.38 387.72 174.84 362.63 178.62 362.63 184.38 394.54 187.24 355.24 190.37 355.24 199.2 392.13 201.79 358.12 205.32 358.12 211.4 392.56 214.31 355.24 218.38 355.24 224.26 392.66 227.56 355.24 230.48 355.24 236.89 392.14 239.83 355.24 243.36 355.24 250.34 392.85 252.68 355.24 255.63 355.24 263.09 394.54 266.08 358.33 269.23 358.33 276.63 390.29 279.32 356.31 283.07 356.31 290.26 394.54 293.04 363.48 296.38 363.48 302.32 394.54 305.16 357.3 308.61 357.3 315.19 393.87 318.1 355.24 321.49 355.24 328.92 394.4 331.94 355.24 334.53 355.24 341.03 394.54 344.1 355.69 347.61 355.69 355.21 393.66 357.48 355.24 361.38 355.24 366.89 394.54 369.81 356.36 373.25 356.36 380.71 392.76 383.04 359.73 386.88 359.73 393.65 392.54 395.83 361.73 399.32 361.73 406.31 385.64 408.94 355.24 412.25 355.24 419.3 394.54 421.99 355.24 425.76 355.24 432.02 393.41 434.5 359.93 437.72 359.93 445.62 385.45 446.96 370.34" stroke="#0000ff" stroke-width="1" fill="none" stroke-linejoin="round"/>
<path d="M25.32 386.56 26.31 394.38 28.67 356.22 31.65 356.22 41.38 393.48 44.06 361.45 46.26 361.45 53.34 394.54 55.48 355.24 58.2 355.24 67.17 394.54 69.75 358.05 72.48 358.05 79.21 391.85 81.26 355.24 84.13 355.24 93.24 393.63 95.36 358.41 97.49 358.41 107 387.39 109.33 356.42 112.86 356.42 119.88 389.64 122.22 358.51 125.5 358.51 132 393.59 134.67 355.95 137.23 355.95 145.11 385.21 147.77 355.24 151.27 355.24 158.6 394.54 161.16 355.24 163.86 355.24 171.88 391.1 174.03 355.24 177.24 355.24 184.8 393.77 187.25 355.24 189.7 355.24 197.33 390.39 199.23 355.24 201.5 355.24 210.1 394.54 212.25 355.56 214.99 355.56 223.38 394.54 226.17 355.88 229.58 355.88 237.19 393.37 239.34 359.34 242.4 359.34 249.29 392.61 251.62 362.26 254.69 362.26 262.68 394.54 265.09 355.24 268.37 355.24 275.34 391.23 278.13 359.47 281.43 359.47 288.19 394.54 291.03 358.83 293.79 358.83 302.35 394.54 304.95 355.76 308.04 355.76 314.66 390.54 317.33 355.24 320.15 355.24 328.62 388.96 330.59 358.52 333.63 358.52 342.03 394.16 344.77 355.24 347.91 355.24 353.25 389.94 355.07 355.48 358.57 355.48 367.68 392.36 369.76 355.24 372.48 355.24 379.42 393.17 381.63 356.87 384.34 356.87 393.69 391.25 396.32 357.4 399.64 357.4 405.16 394.54 408.35 358.71 411.25 358.71 419.39 386.79 421.56 362.14 424.4 362.14 431.59 392.33 433.55 355.24 436.78 355.24 445.89 394.54 447.56 365.06" stroke="#00ff00" stroke-width="1" fill="none" stroke-linejoin="round"/>
</g>
<path d="M26.2 524.5H33.8M444.6 524.5H437M26.2 522H29.2M444.6 522H441.6M26.2 519.5H29.2M444.6 519.5H441.6M26.2 517H29.2M444.6 517H441.6M26.2 514.5H29.2M444.6 514.5H441.6M26.2 512H33.8M444.6 512H437M26.2 509.5H29.2M444.6 509.5H441.6M26.2 507H29.2M444.6 507H441.6M26.2 504.5H29.2M444.6 504.5H441.6M26.2 502H29.2M444.6 502H441.6M26.2 499.5H33.8M444.6 499.5H437M26.2 497H29.2M444.6 497H441.6M26.2 494.5H29.2M444.6 494.5H441.6M26.2 492H29.2M444.6 492H441.6M26.2 489.5H29.2M444.6 489.5H441.6M26.2 487H33.8M444.6 487H437M26.2 484.5H29.2M444.6 484.5H441.6M26.2 482H29.2M444.6 482H441.6M26.2 479.5H29.2M444.6 479.5H441.6M26.2 477H29.2M444.6 477H441.6M26.2 474.5H33.8M444.6 474.5H437M26.2 472H29.2M444.6 472H441.6M26.2 469.5H29.2M444.6 469.5H441.6M26.2 467H29.2M444.6 467H441.6M26.2 464.5H29.2M444.6 464.5H441.6M26.2 462H33.8M444.6 462H437M26.2 459.5H29.2M444.6 459.5H441.6M26.2 524.5V522.3M36.66 524.5V523.2M47.12 524.5V523.2M57.58 524.5V523.2M68.04 524.5V523.2M78.5 524.5V523.2M88.96 524.5V523.2M99.42 524.5V523.2M109.88 524.5V523.2M120.34 524.5V523.2M130.8 524.5V522.3M141.26 524.5V523.2M151.72 524.5V523.2M162.18 524.5V523.2M172.64 524.5V523.2M183.1 524.5V523.2M193.56 524.5V523.2M204.02 524.5V523.2M214.48 524.5V523.2M224.94 524.5V523.2M235.4 524.5V522.3M245.86 524.5V523.2M256.32 524.5V523.2M266.78 524.5V523.2M277.24 524.5V523.2M287.7 524.5V523.2M298.16 524.5V523.2M308.62 524.5V523.2M319.08 524.5V523.2M329.54 524.5V523.2M340 524.5V522.3M350.46 524.5V523.2M360.92 524.5V523.2M371.38 524.5V523.2M381.84 524.5V523.2M392.3 524.5V523.2M402.76 524.5V523.2M413.22 524.5V523.2M423.68 524.5V523.2M434.14 524.5V523.2M444.6 524.5V522.3" stroke="#1a1a1a" stroke-width="1" fill="none"/>
<path d="M26.2 459H444.6 M26.2 459V524.5 M444.6 459V524.5 M26.2 524.5H444.6" stroke="#1a1a1a" stroke-width="1.7" fill="none" stroke-linecap="square"/>
<g clip-path="url(#cpE)">
<path d="M26.6 524.5 26.89 524.5 26.9 464.5 29.8 464.5 30.2 465.98 31.4 481.15 33 495.44 35 506.87 37 513.81 39 518.02 40.2 519.7 41.4 520.94 43 522.11 44.6 522.9 46.6 523.53 48.6 523.91" stroke="#ff00ff" stroke-width="1.1" fill="none" stroke-linejoin="round"/>
<path d="M26.9 524.5 27.19 524.5 27.2 464.5 29.3 464.5 30.9 485.41 32.1 496.76 33.7 506.94 35.3 513.38 36.1 515.65 37.3 518.22 39.3 520.95 40.5 521.98 42.1 522.91 43.7 523.49 45.7 523.93" stroke="#ff00ff" stroke-width="1.1" fill="none" stroke-linejoin="round"/>
<path d="M26.5 524.5 26.79 524.5 26.8 464.5 29.3 464.5 29.7 466.14 30.9 482.69 32.1 494.54 33.7 505.29 34.5 509.12 35.7 513.48 36.5 515.67 37.7 518.18 39.7 520.87 40.9 521.9 42.5 522.83 44.1 523.43 46.1 523.89" stroke="#ff0000" stroke-width="1.1" fill="none" stroke-linejoin="round"/>
<path d="M26.8 524.5 27.09 524.5 27.1 487 28 496.72 29.2 505.88 30.4 512.02 31.6 516.13 33.2 519.59 34.8 521.62 36.8 523.02 39.6 523.92" stroke="#0000ff" stroke-width="1.1" fill="none" stroke-linejoin="round"/>
<path d="M27.1 524.5 27.39 524.5 27.4 494.5 28.3 501.48 29.5 508.32 30.7 513.13 32.3 517.4 33.9 520.07 35.5 521.73 37.9 523.13 40.7 523.9" stroke="#00ffff" stroke-width="1.1" fill="none" stroke-linejoin="round"/>
<path d="M26.7 524.5 26.99 524.5 27 502 27.9 507.23 29.1 512.37 30.3 515.98 31.5 518.51 33.1 520.76 34.7 522.16 36.7 523.2 39.5 523.93" stroke="#000000" stroke-width="1.1" fill="none" stroke-linejoin="round"/>
<path d="M27.2 524.5 27.49 524.5 27.5 464.5 28.4 464.5 28.8 465.91 30 480.47 31.6 494.42 33.6 505.82 35.6 512.89 37.6 517.29 38.8 519.08 40.4 520.8 42 521.97 43.6 522.77 45.6 523.43 48 523.89" stroke="#ff00ff" stroke-width="1.1" fill="none" stroke-linejoin="round"/>
<path d="M26.8 524.5 27.09 524.5 27.1 497 28 503.74 29.2 510.23 30.4 514.69 31.6 517.76 33.2 520.41 34.8 522.02 36.8 523.17 39.6 523.95" stroke="#ff0000" stroke-width="1.1" fill="none" stroke-linejoin="round"/>
<path d="M132.5 524.5 132.79 524.5 132.8 464.5 142.1 464.5 143.7 483.26 144.9 493.95 146.5 504.02 148.5 512.08 150.5 516.97 151.7 518.92 153.3 520.76 154.9 521.99 156.5 522.82 158.5 523.48 160.5 523.88" stroke="#000000" stroke-width="1.1" fill="none" stroke-linejoin="round"/>
<path d="M132.8 524.5 133.09 524.5 133.1 464.5 138.8 464.5 139.2 465.98 140.8 485.27 142.4 498.21 144.4 508.55 146.4 514.83 148.4 518.63 149.6 520.15 150.8 521.28 152 522.11 153.6 522.9 155.6 523.53 157.6 523.91" stroke="#000000" stroke-width="1.1" fill="none" stroke-linejoin="round"/>
<path d="M133.1 524.5 133.39 524.5 133.4 464.5 136.3 464.5 137.9 482.52 139.5 495.82 141.5 506.68 143.5 513.43 145.5 517.63 146.7 519.33 148.3 520.97 149.9 522.09 151.5 522.85 153.5 523.48 155.9 523.92" stroke="#000000" stroke-width="1.1" fill="none" stroke-linejoin="round"/>
<path d="M132.4 524.5 132.69 524.5 132.7 464.5 135.6 464.5 137.2 484.95 138.4 496.16 140 506.33 140.8 509.95 142 514.07 142.8 516.15 144 518.52 146 521.07 147.2 522.04 148.8 522.92 152.4 523.92" stroke="#ff0000" stroke-width="1.1" fill="none" stroke-linejoin="round"/>
<path d="M132.9 524.5 133.19 524.5 133.2 464.5 135.3 464.5 135.7 466.14 136.9 482.69 138.1 494.54 139.7 505.29 140.5 509.12 141.7 513.48 142.5 515.67 143.7 518.18 145.7 520.87 146.9 521.9 148.5 522.83 150.1 523.43 152.1 523.89" stroke="#00ffff" stroke-width="1.1" fill="none" stroke-linejoin="round"/>
<path d="M132.6 524.5 132.89 524.5 132.9 494.5 134.6 507.48 135.8 513.09 137 516.85 138.6 520.01 140.2 521.87 142.2 523.15 144.6 523.89" stroke="#0000ff" stroke-width="1.1" fill="none" stroke-linejoin="round"/>
<path d="M133.2 524.5 133.49 524.5 133.5 499.5 134.4 505.31 135.6 511.02 136.8 515.03 138 517.85 139.6 520.34 141.2 521.9 143.6 523.22 146.4 523.94" stroke="#ff00ff" stroke-width="1.1" fill="none" stroke-linejoin="round"/>
<path d="M133.3 524.5 133.59 524.5 133.6 464.5 134.5 464.5 136.5 485.54 138.1 497.42 139.7 505.67 141.7 512.55 142.9 515.4 144.1 517.57 145.3 519.23 146.9 520.83 148.5 521.95 150.5 522.88 152.5 523.47 154.9 523.91" stroke="#000000" stroke-width="1.1" fill="none" stroke-linejoin="round"/>
<path d="M237 524.5 237.29 524.5 237.3 464.5 239.4 464.5 239.8 465.98 241 481.15 242.6 495.44 244.2 505.02 246.2 512.69 248.2 517.33 249.4 519.19 251 520.94 252.6 522.11 254.2 522.9 256.2 523.53 258.2 523.91" stroke="#000000" stroke-width="1.1" fill="none" stroke-linejoin="round"/>
<path d="M237.2 524.5 237.49 524.5 237.5 492 238.8 500.65 240 506.58 241.6 512.26 243.6 516.89 245.6 519.78 248 521.83 250.8 523.13 254.4 523.92" stroke="#0000ff" stroke-width="1.1" fill="none" stroke-linejoin="round"/>
<path d="M236.9 524.5 237.19 524.5 237.2 464.5 238.9 464.5 239.3 466.14 240.5 482.69 241.7 494.54 243.3 505.29 244.1 509.12 245.3 513.48 246.1 515.67 247.3 518.18 249.3 520.87 250.5 521.9 252.1 522.83 253.7 523.43 255.7 523.89" stroke="#ff0000" stroke-width="1.1" fill="none" stroke-linejoin="round"/>
<path d="M237.5 524.5 237.79 524.5 237.8 509.5 239.5 515.4 240.7 518.11 241.9 520.01 243.1 521.34 244.7 522.53 246.7 523.41 248.7 523.89" stroke="#00ff00" stroke-width="1.1" fill="none" stroke-linejoin="round"/>
<path d="M237.3 524.5 237.59 524.5 237.6 464.5 238.1 464.5 238.5 466.06 240.1 486.14 241.7 499.32 242.9 506.14 244.5 512.45 246.5 517.38 247.7 519.31 248.9 520.71 250.5 522.02 252.1 522.87 254.1 523.54 256.1 523.93" stroke="#ff00ff" stroke-width="1.1" fill="none" stroke-linejoin="round"/>
<path d="M237.4 524.5 237.69 524.5 237.7 489.5 238.6 497.64 239.8 505.63 241 511.24 242.6 516.22 244.2 519.33 246.2 521.63 248.6 523.08 251.4 523.88" stroke="#000000" stroke-width="1.1" fill="none" stroke-linejoin="round"/>
<path d="M341.4 524.5 341.69 524.5 341.7 464.5 344.2 464.5 344.6 465.98 345.8 481.15 347.4 495.44 349.4 506.87 351.4 513.81 353.4 518.02 354.6 519.7 355.8 520.94 357.4 522.11 359 522.9 361 523.53 363 523.91" stroke="#000000" stroke-width="1.1" fill="none" stroke-linejoin="round"/>
<path d="M341.6 524.5 341.89 524.5 341.9 464.5 344 464.5 344.4 465.98 345.6 481.15 347.2 495.44 348.8 505.02 350.8 512.69 352.8 517.33 354 519.19 355.6 520.94 357.2 522.11 358.8 522.9 360.8 523.53 362.8 523.91" stroke="#0000ff" stroke-width="1.1" fill="none" stroke-linejoin="round"/>
<path d="M341.3 524.5 341.59 524.5 341.6 464.5 343.3 464.5 343.7 465.85 345.3 483.73 346.9 496.16 348.9 506.51 350.9 513.08 352.9 517.25 354.1 518.98 355.7 520.66 357.3 521.83 359.3 522.81 361.3 523.43 363.7 523.88" stroke="#00ffff" stroke-width="1.1" fill="none" stroke-linejoin="round"/>
<path d="M341.8 524.5 342.09 524.5 342.1 464.5 348.2 464.5 349.8 483.26 351.4 496.86 353.4 507.73 355.4 514.33 357.4 518.33 358.6 519.93 359.8 521.12 361 521.99 362.6 522.82 364.6 523.48 366.6 523.88" stroke="#00ff00" stroke-width="1.1" fill="none" stroke-linejoin="round"/>
<path d="M341.9 524.5 342.19 524.5 342.2 499.5 343.1 505.31 344.3 511.02 345.5 515.03 346.7 517.85 348.3 520.34 349.9 521.9 352.3 523.22 355.1 523.94" stroke="#ff0000" stroke-width="1.1" fill="none" stroke-linejoin="round"/>
<path d="M341.7 524.5 341.99 524.5 342 464.5 343.3 464.5 343.7 467.58 345.3 487.14 346.5 497.25 348.1 506.62 349.7 512.76 351.7 517.57 352.9 519.44 354.1 520.81 355.3 521.81 356.9 522.74 358.9 523.46 360.9 523.88" stroke="#ff00ff" stroke-width="1.1" fill="none" stroke-linejoin="round"/>
<path d="M341.8 524.5 342.09 524.5 342.1 494.5 343 501.14 344.2 507.76 345.4 512.5 347 516.81 348.6 519.57 350.6 521.67 353 523.05 356.2 523.9" stroke="#000000" stroke-width="1.1" fill="none" stroke-linejoin="round"/>
<path d="M28 524.5 30.1 511.65 31 508.33 31.6 507.22 32 507 33.6 512.77 35.2 516.64 37.2 519.73 39.2 521.61 42 523.06 45.2 523.85 49.2 524.26 56.4 524.5" stroke="#0000ff" stroke-width="1.1" fill="none" stroke-linejoin="round"/>
<path d="M133.6 524.5 134.8 515.52 135.7 510.34 136.3 508.12 136.6 507.44 137.1 507 138.7 512.77 140.3 516.64 142.3 519.73 144.3 521.61 146.7 522.91 149.9 523.79 153.9 524.24 161.1 524.5" stroke="#0000ff" stroke-width="1.1" fill="none" stroke-linejoin="round"/>
<path d="M238 524.5 239.2 515.52 240.1 510.34 240.7 508.12 241 507.44 241.5 507 243.1 512.77 244.7 516.64 246.7 519.73 248.7 521.61 251.5 523.06 254.7 523.85 258.7 524.26 265.9 524.5" stroke="#00ffff" stroke-width="1.1" fill="none" stroke-linejoin="round"/>
<path d="M342.4 524.5 344.5 511.65 345.4 508.33 346 507.22 346.4 507 348 512.77 349.6 516.64 351.6 519.73 353.6 521.61 356.4 523.06 359.6 523.85 363.6 524.26 370.8 524.5" stroke="#00ff00" stroke-width="1.1" fill="none" stroke-linejoin="round"/>
<path d="M38.1 524.5 38.39 524.5 38.4 505.75 40.1 513.48 41.3 516.92 42.5 519.29 43.7 520.92 45.3 522.33 46.9 523.18 49.3 523.88" stroke="#0000ff" stroke-width="1.1" fill="none" stroke-linejoin="round"/>
<path d="M41 524.5 41.29 524.5 41.3 487 42.2 496.19 43.4 505.05 44.6 511.13 45.8 515.31 47.4 518.93 48.2 520.16 49.4 521.52 50.6 522.45 51.8 523.09 54.6 523.91" stroke="#ff0000" stroke-width="1.1" fill="none" stroke-linejoin="round"/>
<path d="M54.7 524.5 54.99 524.5 55 477 55.9 488.65 57.1 499.86 58.3 507.56 59.9 514.23 61.5 518.27 62.3 519.65 63.5 521.16 64.7 522.21 65.9 522.92 69.1 523.92" stroke="#00ff00" stroke-width="1.1" fill="none" stroke-linejoin="round"/>
<path d="M54.9 524.5 55.19 524.5 55.2 505.75 56.9 513.48 58.1 516.92 59.3 519.29 60.5 520.92 62.1 522.33 63.7 523.18 66.1 523.88" stroke="#000000" stroke-width="1.1" fill="none" stroke-linejoin="round"/>
<path d="M58.8 524.5 59.09 524.5 59.1 472 60 484.87 61.2 497.26 62.4 505.78 64 513.15 65.6 517.61 66.4 519.14 67.6 520.81 68.8 521.97 70 522.76 71.6 523.44 73.6 523.93" stroke="#0000ff" stroke-width="1.1" fill="none" stroke-linejoin="round"/>
<path d="M75.4 524.5 75.69 524.5 75.7 508.25 77.4 514.95 78.6 517.93 79.8 519.99 81 521.4 82.6 522.62 84.2 523.36 86.2 523.89" stroke="#ff00ff" stroke-width="1.1" fill="none" stroke-linejoin="round"/>
<path d="M81.5 524.5 81.79 524.5 81.8 518.25 83.5 520.83 85.1 522.27 87.1 523.31 89.5 523.94" stroke="#000000" stroke-width="1.1" fill="none" stroke-linejoin="round"/>
<path d="M104.7 524.5 104.99 524.5 105 518.25 106.7 520.83 108.3 522.27 110.3 523.31 112.7 523.94" stroke="#0000ff" stroke-width="1.1" fill="none" stroke-linejoin="round"/>
<path d="M30.7 524.5 30.99 524.5 31 487 31.9 496.19 33.1 505.05 34.3 511.13 35.5 515.31 37.1 518.93 37.9 520.16 39.1 521.52 40.3 522.45 41.5 523.09 44.3 523.91" stroke="#0000ff" stroke-width="1.1" fill="none" stroke-linejoin="round"/>
<path d="M146.7 524.5 146.99 524.5 147 489.5 147.9 498.08 149.1 506.34 150.3 512.02 151.5 515.92 153.1 519.3 154.7 521.34 155.9 522.33 157.1 523.01 159.9 523.88" stroke="#ff00ff" stroke-width="1.1" fill="none" stroke-linejoin="round"/>
<path d="M151.5 524.5 151.79 524.5 151.8 487 152.7 496.19 153.9 505.05 155.1 511.13 156.3 515.31 157.9 518.93 158.7 520.16 159.9 521.52 161.1 522.45 162.3 523.09 165.1 523.91" stroke="#00ffff" stroke-width="1.1" fill="none" stroke-linejoin="round"/>
<path d="M179.6 524.5 179.89 524.5 179.9 469.5 180.8 482.98 182 495.97 183.2 504.89 184.8 512.61 186.4 517.29 187.2 518.88 188.4 520.64 189.6 521.85 190.8 522.68 192.4 523.39 194.4 523.91" stroke="#0000ff" stroke-width="1.1" fill="none" stroke-linejoin="round"/>
<path d="M135.7 524.5 135.99 524.5 136 507 137.7 514.21 138.9 517.43 140.1 519.64 141.3 521.16 142.9 522.47 144.5 523.27 146.9 523.92" stroke="#0000ff" stroke-width="1.1" fill="none" stroke-linejoin="round"/>
<path d="M231.3 524.5 231.59 524.5 231.6 505.75 233.3 513.48 234.5 516.92 235.7 519.29 236.9 520.92 238.5 522.33 240.1 523.18 242.5 523.88" stroke="#00ff00" stroke-width="1.1" fill="none" stroke-linejoin="round"/>
<path d="M244.2 524.5 244.49 524.5 244.5 498.25 245.4 504.69 246.6 510.88 247.8 515.14 249 518.07 250.6 520.6 252.2 522.13 254.2 523.23 256.6 523.9" stroke="#00ffff" stroke-width="1.1" fill="none" stroke-linejoin="round"/>
<path d="M240.6 524.5 240.89 524.5 240.9 507 242.6 514.21 243.8 517.43 245 519.64 246.2 521.16 247.8 522.47 249.4 523.27 251.8 523.92" stroke="#00ffff" stroke-width="1.1" fill="none" stroke-linejoin="round"/>
<path d="M248.4 524.5 248.69 524.5 248.7 505.75 250.4 513.48 251.6 516.92 252.8 519.29 254 520.92 255.6 522.33 257.2 523.18 259.6 523.88" stroke="#00ff00" stroke-width="1.1" fill="none" stroke-linejoin="round"/>
<path d="M250.3 524.5 250.59 524.5 250.6 472 251.5 484.87 252.7 497.26 253.9 505.78 255.5 513.15 257.1 517.61 257.9 519.14 259.1 520.81 260.3 521.97 261.5 522.76 263.1 523.44 265.1 523.93" stroke="#000000" stroke-width="1.1" fill="none" stroke-linejoin="round"/>
<path d="M258.8 524.5 259.09 524.5 259.1 478.25 260 489.59 261.2 500.51 262.4 508.01 264 514.5 265.6 518.43 266.4 519.78 267.6 521.25 268.8 522.27 270 522.97 273.2 523.94" stroke="#000000" stroke-width="1.1" fill="none" stroke-linejoin="round"/>
<path d="M255.2 524.5 255.49 524.5 255.5 499.5 256.4 505.63 257.6 511.53 258.8 515.59 260 518.37 261.6 520.78 263.2 522.25 265.2 523.29 267.6 523.93" stroke="#ff00ff" stroke-width="1.1" fill="none" stroke-linejoin="round"/>
<path d="M297.4 524.5 297.69 524.5 297.7 499.5 298.6 505.63 299.8 511.53 301 515.59 302.2 518.37 303.8 520.78 305.4 522.25 307.4 523.29 309.8 523.93" stroke="#00ff00" stroke-width="1.1" fill="none" stroke-linejoin="round"/>
<path d="M302.7 524.5 302.99 524.5 303 515.75 304.7 519.36 306.3 521.38 307.5 522.36 308.7 523.03 311.5 523.89" stroke="#ff00ff" stroke-width="1.1" fill="none" stroke-linejoin="round"/>
<path d="M279.7 524.5 279.99 524.5 280 520.75 281.3 522 282.5 522.78 284.1 523.46 286.1 523.94" stroke="#00ff00" stroke-width="1.1" fill="none" stroke-linejoin="round"/>
<path d="M290.1 524.5 290.39 524.5 290.4 520.75 291.7 522 292.9 522.78 294.5 523.46 296.5 523.94" stroke="#00ffff" stroke-width="1.1" fill="none" stroke-linejoin="round"/>
<path d="M307.7 524.5 307.99 524.5 308 520.75 309.3 522 310.5 522.78 312.1 523.46 314.1 523.94" stroke="#000000" stroke-width="1.1" fill="none" stroke-linejoin="round"/>
<path d="M319.3 524.5 319.59 524.5 319.6 464.5 320.5 479.21 321.7 493.37 322.9 503.11 324.5 511.52 326.1 516.63 326.9 518.37 328.1 520.29 329.3 521.6 330.9 522.74 332.5 523.43 334.5 523.93" stroke="#ff0000" stroke-width="1.1" fill="none" stroke-linejoin="round"/>
<path d="M323.5 524.5 323.79 524.5 323.8 482 324.7 492.42 325.9 502.45 327.1 509.35 328.7 515.31 330.3 518.93 331.1 520.16 332.3 521.52 333.5 522.45 334.7 523.09 337.5 523.91" stroke="#ff00ff" stroke-width="1.1" fill="none" stroke-linejoin="round"/>
<path d="M327.1 524.5 327.39 524.5 327.4 464.5 328.3 479.21 329.5 493.37 330.7 503.11 332.3 511.52 333.9 516.63 334.7 518.37 335.9 520.29 337.1 521.6 338.7 522.74 340.3 523.43 342.3 523.93" stroke="#00ffff" stroke-width="1.1" fill="none" stroke-linejoin="round"/>
<path d="M352.1 524.5 352.39 524.5 352.4 499.5 353.3 505.63 354.5 511.53 355.7 515.59 356.9 518.37 358.5 520.78 360.1 522.25 362.1 523.29 364.5 523.93" stroke="#ff0000" stroke-width="1.1" fill="none" stroke-linejoin="round"/>
<path d="M357.7 524.5 357.99 524.5 358 482 358.9 492.42 360.1 502.45 361.3 509.35 362.9 515.31 364.5 518.93 365.3 520.16 366.5 521.52 367.7 522.45 368.9 523.09 371.7 523.91" stroke="#00ff00" stroke-width="1.1" fill="none" stroke-linejoin="round"/>
<path d="M363 524.5 363.29 524.5 363.3 472 364.2 484.87 365.4 497.26 366.6 505.78 368.2 513.15 369.8 517.61 370.6 519.14 371.8 520.81 373 521.97 374.2 522.76 375.8 523.44 377.8 523.93" stroke="#ff00ff" stroke-width="1.1" fill="none" stroke-linejoin="round"/>
<path d="M370.2 524.5 370.49 524.5 370.5 473.25 371.4 485.81 372.6 497.91 373.8 506.23 375.4 513.42 377 517.78 377.8 519.26 379 520.9 380.2 522.03 381.4 522.8 383 523.47 385 523.95" stroke="#ff0000" stroke-width="1.1" fill="none" stroke-linejoin="round"/>
<path d="M376.4 524.5 376.69 524.5 376.7 504.5 378.4 512.74 379.6 516.42 380.8 518.95 382 520.68 383.6 522.18 385.6 523.26 388 523.91" stroke="#ff0000" stroke-width="1.1" fill="none" stroke-linejoin="round"/>
<path d="M357.9 524.5 358.19 524.5 358.2 513.75 359.9 518.18 360.7 519.58 361.9 521.12 363.1 522.18 364.3 522.9 367.5 523.91" stroke="#0000ff" stroke-width="1.1" fill="none" stroke-linejoin="round"/>
<path d="M387.6 524.5 387.89 524.5 387.9 518.25 389.6 520.83 391.2 522.27 393.2 523.31 395.6 523.94" stroke="#0000ff" stroke-width="1.1" fill="none" stroke-linejoin="round"/>
<path d="M419.7 524.5 419.99 524.5 420 507 421.7 514.21 422.9 517.43 424.1 519.64 425.3 521.16 426.9 522.47 428.5 523.27 430.9 523.92" stroke="#000000" stroke-width="1.1" fill="none" stroke-linejoin="round"/>
<path d="M437.9 524.5 438.19 524.5 438.2 464.5 439.5 484.53 440.7 497.03 442.3 507.84 443.1 511.52 444.3 515.58" stroke="#ff0000" stroke-width="1.1" fill="none" stroke-linejoin="round"/>
</g>
<path d="M27 464.5 30.2 464.5 30.6 466.64 32.6 484.28 34.6 496.54 35.8 502.02 37 506.43 38.2 509.97 39.4 512.82 40.6 515.11 42.2 517.48 43.8 519.25 45.4 520.58 47.4 521.77 49.4 522.6 54.2 523.71 61.8 524.3 132.59 524.3 132.6 464.5 135.8 464.5 136.2 466.64 137.4 477.98 139 489.73 140.6 498.5 142.2 505.07 144.2 510.99 146.6 515.77 149 518.86 150.6 520.28 152.2 521.35 155 522.6 158.2 523.44 162.2 523.99 167.4 524.3 236.99 524.3 237 464.5 240.6 464.5 241.8 475.38 243.4 486.87 245 495.68 247 503.85 249 509.7 251.4 514.58 252.6 516.38 254.2 518.28 255.8 519.74 257.4 520.85 260.2 522.21 263.8 523.24 267.8 523.86 273.4 524.25 341.59 524.3 341.6 464.5 344.6 464.5 345.8 476.26 347.4 488.44 349 497.54 350.6 504.35 352.6 510.49 355 515.44 357.4 518.65 359 520.12 360.6 521.23 363.4 522.53 366.6 523.4 370.6 523.97 375.8 524.29 443.8 524.3" stroke="#c41a1a" stroke-width="1.3" fill="none" stroke-linejoin="round"/>
<path d="M59 524.3 132.59 524.3" stroke="#c41a1a" stroke-width="2.4" fill="none" stroke-linejoin="round"/>
<path d="M164.6 524.3 236.99 524.3" stroke="#c41a1a" stroke-width="2.4" fill="none" stroke-linejoin="round"/>
<path d="M271.8 524.3 341.59 524.3" stroke="#c41a1a" stroke-width="2.4" fill="none" stroke-linejoin="round"/>
<path d="M373 524.3 443.8 524.3" stroke="#c41a1a" stroke-width="2.4" fill="none" stroke-linejoin="round"/>
</g>
</svg>
</body></html>
